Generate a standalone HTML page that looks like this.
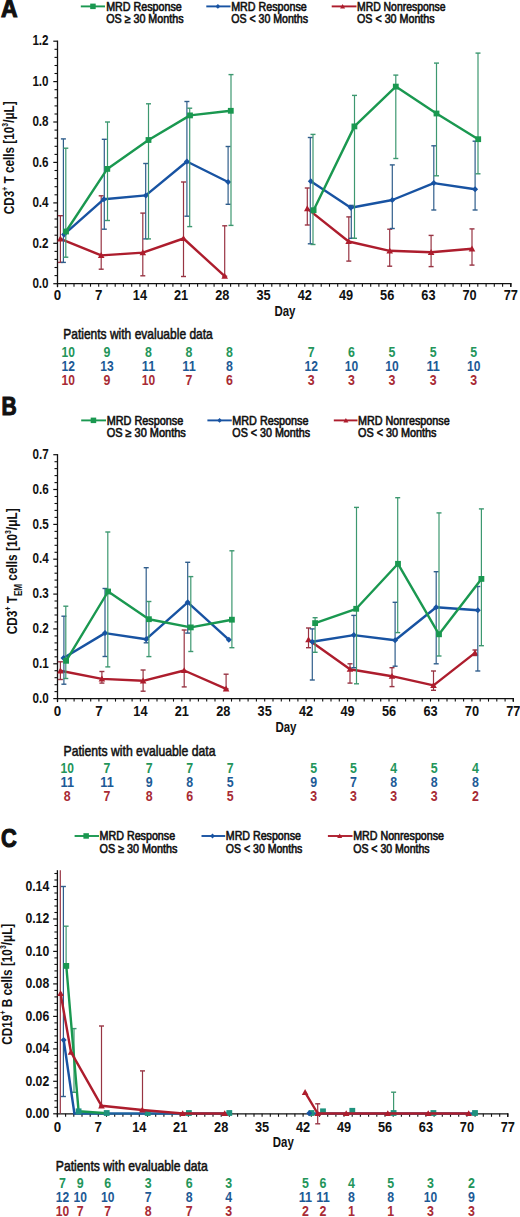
<!DOCTYPE html><html><head><meta charset="utf-8"><style>html,body{margin:0;padding:0;background:#fff;}svg{display:block;}text{font-family:"Liberation Sans", sans-serif;}</style></head><body>
<svg width="520" height="1217" viewBox="0 0 520 1217">
<rect width="520" height="1217" fill="#fff"/>
<text x="1.0" y="17.4" font-size="25" font-weight="bold" text-anchor="start" fill="#111" stroke="#111" stroke-width="1.1" textLength="16.6" lengthAdjust="spacingAndGlyphs">A</text>
<line x1="80.8" y1="6.4" x2="105.0" y2="6.4" stroke="#1a9850" stroke-width="1.9"/>
<rect x="90.2" y="3.6" width="5.5" height="5.5" fill="#1a9850"/>
<text x="106.2" y="10.6" font-size="12" font-weight="normal" text-anchor="start" fill="#111" stroke="#111" stroke-width="0.6" textLength="75.5" lengthAdjust="spacingAndGlyphs">MRD Response</text>
<text x="106.2" y="23.0" font-size="12" font-weight="normal" text-anchor="start" fill="#111" stroke="#111" stroke-width="0.6" textLength="77.3" lengthAdjust="spacingAndGlyphs">OS &#8805; 30 Months</text>
<line x1="206.3" y1="6.4" x2="230.5" y2="6.4" stroke="#1853a2" stroke-width="1.9"/>
<polygon points="217.9,4.0 220.3,6.4 217.9,8.8 215.5,6.4" fill="#1853a2"/>
<text x="231.2" y="10.6" font-size="12" font-weight="normal" text-anchor="start" fill="#111" stroke="#111" stroke-width="0.6" textLength="75.5" lengthAdjust="spacingAndGlyphs">MRD Response</text>
<text x="231.2" y="23.0" font-size="12" font-weight="normal" text-anchor="start" fill="#111" stroke="#111" stroke-width="0.6" textLength="76.8" lengthAdjust="spacingAndGlyphs">OS &lt; 30 Months</text>
<line x1="331.7" y1="6.4" x2="356.5" y2="6.4" stroke="#ad1d2d" stroke-width="1.9"/>
<polygon points="342.6,3.9 345.1,8.4 340.1,8.4" fill="#ad1d2d"/>
<text x="357.0" y="10.6" font-size="12" font-weight="normal" text-anchor="start" fill="#111" stroke="#111" stroke-width="0.6" textLength="88.5" lengthAdjust="spacingAndGlyphs">MRD Nonresponse</text>
<text x="357.0" y="23.0" font-size="12" font-weight="normal" text-anchor="start" fill="#111" stroke="#111" stroke-width="0.6" textLength="77.6" lengthAdjust="spacingAndGlyphs">OS &lt; 30 Months</text>
<text transform="translate(14.2,214.3) rotate(-90)" font-size="15.5" font-weight="bold" fill="#111" textLength="113" lengthAdjust="spacingAndGlyphs">CD3<tspan font-size="9" dy="-6">+</tspan><tspan dy="6"> T cells [10</tspan><tspan font-size="9" dy="-6">3</tspan><tspan dy="6">/&#956;L]</tspan></text>
<line x1="57.5" y1="40.6" x2="57.5" y2="287.2" stroke="#111" stroke-width="1.3"/>
<line x1="53.3" y1="283.7" x2="57.5" y2="283.7" stroke="#111" stroke-width="1.2"/>
<line x1="54.5" y1="275.6" x2="57.5" y2="275.6" stroke="#111" stroke-width="1.1"/>
<line x1="54.5" y1="267.5" x2="57.5" y2="267.5" stroke="#111" stroke-width="1.1"/>
<line x1="54.5" y1="259.4" x2="57.5" y2="259.4" stroke="#111" stroke-width="1.1"/>
<line x1="54.5" y1="251.4" x2="57.5" y2="251.4" stroke="#111" stroke-width="1.1"/>
<text x="48.6" y="287.9" font-size="15" font-weight="bold" text-anchor="end" fill="#111" textLength="16.2" lengthAdjust="spacingAndGlyphs">0.0</text>
<line x1="53.3" y1="243.3" x2="57.5" y2="243.3" stroke="#111" stroke-width="1.2"/>
<line x1="54.5" y1="235.2" x2="57.5" y2="235.2" stroke="#111" stroke-width="1.1"/>
<line x1="54.5" y1="227.1" x2="57.5" y2="227.1" stroke="#111" stroke-width="1.1"/>
<line x1="54.5" y1="219.0" x2="57.5" y2="219.0" stroke="#111" stroke-width="1.1"/>
<line x1="54.5" y1="210.9" x2="57.5" y2="210.9" stroke="#111" stroke-width="1.1"/>
<text x="48.6" y="247.5" font-size="15" font-weight="bold" text-anchor="end" fill="#111" textLength="16.2" lengthAdjust="spacingAndGlyphs">0.2</text>
<line x1="53.3" y1="202.9" x2="57.5" y2="202.9" stroke="#111" stroke-width="1.2"/>
<line x1="54.5" y1="194.8" x2="57.5" y2="194.8" stroke="#111" stroke-width="1.1"/>
<line x1="54.5" y1="186.7" x2="57.5" y2="186.7" stroke="#111" stroke-width="1.1"/>
<line x1="54.5" y1="178.6" x2="57.5" y2="178.6" stroke="#111" stroke-width="1.1"/>
<line x1="54.5" y1="170.5" x2="57.5" y2="170.5" stroke="#111" stroke-width="1.1"/>
<text x="48.6" y="207.1" font-size="15" font-weight="bold" text-anchor="end" fill="#111" textLength="16.2" lengthAdjust="spacingAndGlyphs">0.4</text>
<line x1="53.3" y1="162.4" x2="57.5" y2="162.4" stroke="#111" stroke-width="1.2"/>
<line x1="54.5" y1="154.4" x2="57.5" y2="154.4" stroke="#111" stroke-width="1.1"/>
<line x1="54.5" y1="146.3" x2="57.5" y2="146.3" stroke="#111" stroke-width="1.1"/>
<line x1="54.5" y1="138.2" x2="57.5" y2="138.2" stroke="#111" stroke-width="1.1"/>
<line x1="54.5" y1="130.1" x2="57.5" y2="130.1" stroke="#111" stroke-width="1.1"/>
<text x="48.6" y="166.6" font-size="15" font-weight="bold" text-anchor="end" fill="#111" textLength="16.2" lengthAdjust="spacingAndGlyphs">0.6</text>
<line x1="53.3" y1="122.0" x2="57.5" y2="122.0" stroke="#111" stroke-width="1.2"/>
<line x1="54.5" y1="114.0" x2="57.5" y2="114.0" stroke="#111" stroke-width="1.1"/>
<line x1="54.5" y1="105.9" x2="57.5" y2="105.9" stroke="#111" stroke-width="1.1"/>
<line x1="54.5" y1="97.8" x2="57.5" y2="97.8" stroke="#111" stroke-width="1.1"/>
<line x1="54.5" y1="89.7" x2="57.5" y2="89.7" stroke="#111" stroke-width="1.1"/>
<text x="48.6" y="126.2" font-size="15" font-weight="bold" text-anchor="end" fill="#111" textLength="16.2" lengthAdjust="spacingAndGlyphs">0.8</text>
<line x1="53.3" y1="81.6" x2="57.5" y2="81.6" stroke="#111" stroke-width="1.2"/>
<line x1="54.5" y1="73.5" x2="57.5" y2="73.5" stroke="#111" stroke-width="1.1"/>
<line x1="54.5" y1="65.5" x2="57.5" y2="65.5" stroke="#111" stroke-width="1.1"/>
<line x1="54.5" y1="57.4" x2="57.5" y2="57.4" stroke="#111" stroke-width="1.1"/>
<line x1="54.5" y1="49.3" x2="57.5" y2="49.3" stroke="#111" stroke-width="1.1"/>
<text x="48.6" y="85.8" font-size="15" font-weight="bold" text-anchor="end" fill="#111" textLength="16.2" lengthAdjust="spacingAndGlyphs">1.0</text>
<line x1="53.3" y1="41.2" x2="57.5" y2="41.2" stroke="#111" stroke-width="1.2"/>
<text x="48.6" y="45.4" font-size="15" font-weight="bold" text-anchor="end" fill="#111" textLength="16.2" lengthAdjust="spacingAndGlyphs">1.2</text>
<line x1="56.9" y1="283.7" x2="511.4" y2="283.7" stroke="#111" stroke-width="1.3"/>
<line x1="57.5" y1="283.7" x2="57.5" y2="286.7" stroke="#111" stroke-width="1.1"/>
<line x1="65.7" y1="283.7" x2="65.7" y2="286.7" stroke="#111" stroke-width="1.1"/>
<line x1="74.0" y1="283.7" x2="74.0" y2="286.7" stroke="#111" stroke-width="1.1"/>
<line x1="82.2" y1="283.7" x2="82.2" y2="286.7" stroke="#111" stroke-width="1.1"/>
<line x1="90.5" y1="283.7" x2="90.5" y2="286.7" stroke="#111" stroke-width="1.1"/>
<line x1="98.7" y1="283.7" x2="98.7" y2="286.7" stroke="#111" stroke-width="1.1"/>
<line x1="107.0" y1="283.7" x2="107.0" y2="286.7" stroke="#111" stroke-width="1.1"/>
<line x1="115.2" y1="283.7" x2="115.2" y2="286.7" stroke="#111" stroke-width="1.1"/>
<line x1="123.4" y1="283.7" x2="123.4" y2="286.7" stroke="#111" stroke-width="1.1"/>
<line x1="131.7" y1="283.7" x2="131.7" y2="286.7" stroke="#111" stroke-width="1.1"/>
<line x1="139.9" y1="283.7" x2="139.9" y2="286.7" stroke="#111" stroke-width="1.1"/>
<line x1="148.2" y1="283.7" x2="148.2" y2="286.7" stroke="#111" stroke-width="1.1"/>
<line x1="156.4" y1="283.7" x2="156.4" y2="286.7" stroke="#111" stroke-width="1.1"/>
<line x1="164.6" y1="283.7" x2="164.6" y2="286.7" stroke="#111" stroke-width="1.1"/>
<line x1="172.9" y1="283.7" x2="172.9" y2="286.7" stroke="#111" stroke-width="1.1"/>
<line x1="181.1" y1="283.7" x2="181.1" y2="286.7" stroke="#111" stroke-width="1.1"/>
<line x1="189.4" y1="283.7" x2="189.4" y2="286.7" stroke="#111" stroke-width="1.1"/>
<line x1="197.6" y1="283.7" x2="197.6" y2="286.7" stroke="#111" stroke-width="1.1"/>
<line x1="205.9" y1="283.7" x2="205.9" y2="286.7" stroke="#111" stroke-width="1.1"/>
<line x1="214.1" y1="283.7" x2="214.1" y2="286.7" stroke="#111" stroke-width="1.1"/>
<line x1="222.3" y1="283.7" x2="222.3" y2="286.7" stroke="#111" stroke-width="1.1"/>
<line x1="230.6" y1="283.7" x2="230.6" y2="286.7" stroke="#111" stroke-width="1.1"/>
<line x1="238.8" y1="283.7" x2="238.8" y2="286.7" stroke="#111" stroke-width="1.1"/>
<line x1="247.1" y1="283.7" x2="247.1" y2="286.7" stroke="#111" stroke-width="1.1"/>
<line x1="255.3" y1="283.7" x2="255.3" y2="286.7" stroke="#111" stroke-width="1.1"/>
<line x1="263.5" y1="283.7" x2="263.5" y2="286.7" stroke="#111" stroke-width="1.1"/>
<line x1="271.8" y1="283.7" x2="271.8" y2="286.7" stroke="#111" stroke-width="1.1"/>
<line x1="280.0" y1="283.7" x2="280.0" y2="286.7" stroke="#111" stroke-width="1.1"/>
<line x1="288.3" y1="283.7" x2="288.3" y2="286.7" stroke="#111" stroke-width="1.1"/>
<line x1="296.5" y1="283.7" x2="296.5" y2="286.7" stroke="#111" stroke-width="1.1"/>
<line x1="304.8" y1="283.7" x2="304.8" y2="286.7" stroke="#111" stroke-width="1.1"/>
<line x1="313.0" y1="283.7" x2="313.0" y2="286.7" stroke="#111" stroke-width="1.1"/>
<line x1="321.2" y1="283.7" x2="321.2" y2="286.7" stroke="#111" stroke-width="1.1"/>
<line x1="329.5" y1="283.7" x2="329.5" y2="286.7" stroke="#111" stroke-width="1.1"/>
<line x1="337.7" y1="283.7" x2="337.7" y2="286.7" stroke="#111" stroke-width="1.1"/>
<line x1="346.0" y1="283.7" x2="346.0" y2="286.7" stroke="#111" stroke-width="1.1"/>
<line x1="354.2" y1="283.7" x2="354.2" y2="286.7" stroke="#111" stroke-width="1.1"/>
<line x1="362.4" y1="283.7" x2="362.4" y2="286.7" stroke="#111" stroke-width="1.1"/>
<line x1="370.7" y1="283.7" x2="370.7" y2="286.7" stroke="#111" stroke-width="1.1"/>
<line x1="378.9" y1="283.7" x2="378.9" y2="286.7" stroke="#111" stroke-width="1.1"/>
<line x1="387.2" y1="283.7" x2="387.2" y2="286.7" stroke="#111" stroke-width="1.1"/>
<line x1="395.4" y1="283.7" x2="395.4" y2="286.7" stroke="#111" stroke-width="1.1"/>
<line x1="403.7" y1="283.7" x2="403.7" y2="286.7" stroke="#111" stroke-width="1.1"/>
<line x1="411.9" y1="283.7" x2="411.9" y2="286.7" stroke="#111" stroke-width="1.1"/>
<line x1="420.1" y1="283.7" x2="420.1" y2="286.7" stroke="#111" stroke-width="1.1"/>
<line x1="428.4" y1="283.7" x2="428.4" y2="286.7" stroke="#111" stroke-width="1.1"/>
<line x1="436.6" y1="283.7" x2="436.6" y2="286.7" stroke="#111" stroke-width="1.1"/>
<line x1="444.9" y1="283.7" x2="444.9" y2="286.7" stroke="#111" stroke-width="1.1"/>
<line x1="453.1" y1="283.7" x2="453.1" y2="286.7" stroke="#111" stroke-width="1.1"/>
<line x1="461.3" y1="283.7" x2="461.3" y2="286.7" stroke="#111" stroke-width="1.1"/>
<line x1="469.6" y1="283.7" x2="469.6" y2="286.7" stroke="#111" stroke-width="1.1"/>
<line x1="477.8" y1="283.7" x2="477.8" y2="286.7" stroke="#111" stroke-width="1.1"/>
<line x1="486.1" y1="283.7" x2="486.1" y2="286.7" stroke="#111" stroke-width="1.1"/>
<line x1="494.3" y1="283.7" x2="494.3" y2="286.7" stroke="#111" stroke-width="1.1"/>
<line x1="502.6" y1="283.7" x2="502.6" y2="286.7" stroke="#111" stroke-width="1.1"/>
<line x1="510.8" y1="283.7" x2="510.8" y2="286.7" stroke="#111" stroke-width="1.1"/>
<line x1="510.8" y1="283.1" x2="510.8" y2="286.9" stroke="#111" stroke-width="1.3"/>
<text x="57.5" y="300.3" font-size="14" font-weight="bold" text-anchor="middle" fill="#111" textLength="7.4" lengthAdjust="spacingAndGlyphs">0</text>
<text x="98.7" y="300.3" font-size="14" font-weight="bold" text-anchor="middle" fill="#111" textLength="7.4" lengthAdjust="spacingAndGlyphs">7</text>
<text x="139.9" y="300.3" font-size="14" font-weight="bold" text-anchor="middle" fill="#111" textLength="14.2" lengthAdjust="spacingAndGlyphs">14</text>
<text x="181.1" y="300.3" font-size="14" font-weight="bold" text-anchor="middle" fill="#111" textLength="14.2" lengthAdjust="spacingAndGlyphs">21</text>
<text x="222.3" y="300.3" font-size="14" font-weight="bold" text-anchor="middle" fill="#111" textLength="14.2" lengthAdjust="spacingAndGlyphs">28</text>
<text x="263.5" y="300.3" font-size="14" font-weight="bold" text-anchor="middle" fill="#111" textLength="14.2" lengthAdjust="spacingAndGlyphs">35</text>
<text x="304.8" y="300.3" font-size="14" font-weight="bold" text-anchor="middle" fill="#111" textLength="14.2" lengthAdjust="spacingAndGlyphs">42</text>
<text x="346.0" y="300.3" font-size="14" font-weight="bold" text-anchor="middle" fill="#111" textLength="14.2" lengthAdjust="spacingAndGlyphs">49</text>
<text x="387.2" y="300.3" font-size="14" font-weight="bold" text-anchor="middle" fill="#111" textLength="14.2" lengthAdjust="spacingAndGlyphs">56</text>
<text x="428.4" y="300.3" font-size="14" font-weight="bold" text-anchor="middle" fill="#111" textLength="14.2" lengthAdjust="spacingAndGlyphs">63</text>
<text x="469.6" y="300.3" font-size="14" font-weight="bold" text-anchor="middle" fill="#111" textLength="14.2" lengthAdjust="spacingAndGlyphs">70</text>
<text x="510.8" y="300.3" font-size="14" font-weight="bold" text-anchor="middle" fill="#111" textLength="14.2" lengthAdjust="spacingAndGlyphs">77</text>
<text x="274.4" y="316.3" font-size="14" font-weight="bold" text-anchor="start" fill="#111" textLength="21.0" lengthAdjust="spacingAndGlyphs">Day</text>
<text x="63.2" y="339.2" font-size="14.5" font-weight="normal" text-anchor="start" fill="#111" stroke="#111" stroke-width="0.55" textLength="149.6" lengthAdjust="spacingAndGlyphs">Patients with evaluable data</text>
<text x="68.3" y="357.0" font-size="14.5" font-weight="bold" text-anchor="middle" fill="#23955a" textLength="13.4" lengthAdjust="spacingAndGlyphs">10</text>
<text x="107.0" y="357.0" font-size="14.5" font-weight="bold" text-anchor="middle" fill="#23955a" textLength="6.9" lengthAdjust="spacingAndGlyphs">9</text>
<text x="148.5" y="357.0" font-size="14.5" font-weight="bold" text-anchor="middle" fill="#23955a" textLength="6.9" lengthAdjust="spacingAndGlyphs">8</text>
<text x="189.0" y="357.0" font-size="14.5" font-weight="bold" text-anchor="middle" fill="#23955a" textLength="6.9" lengthAdjust="spacingAndGlyphs">8</text>
<text x="229.5" y="357.0" font-size="14.5" font-weight="bold" text-anchor="middle" fill="#23955a" textLength="6.9" lengthAdjust="spacingAndGlyphs">8</text>
<text x="311.2" y="357.0" font-size="14.5" font-weight="bold" text-anchor="middle" fill="#23955a" textLength="6.9" lengthAdjust="spacingAndGlyphs">7</text>
<text x="351.5" y="357.0" font-size="14.5" font-weight="bold" text-anchor="middle" fill="#23955a" textLength="6.9" lengthAdjust="spacingAndGlyphs">6</text>
<text x="391.9" y="357.0" font-size="14.5" font-weight="bold" text-anchor="middle" fill="#23955a" textLength="6.9" lengthAdjust="spacingAndGlyphs">5</text>
<text x="433.1" y="357.0" font-size="14.5" font-weight="bold" text-anchor="middle" fill="#23955a" textLength="6.9" lengthAdjust="spacingAndGlyphs">5</text>
<text x="473.8" y="357.0" font-size="14.5" font-weight="bold" text-anchor="middle" fill="#23955a" textLength="6.9" lengthAdjust="spacingAndGlyphs">5</text>
<text x="68.3" y="370.9" font-size="14.5" font-weight="bold" text-anchor="middle" fill="#1d5a96" textLength="13.4" lengthAdjust="spacingAndGlyphs">12</text>
<text x="107.0" y="370.9" font-size="14.5" font-weight="bold" text-anchor="middle" fill="#1d5a96" textLength="13.4" lengthAdjust="spacingAndGlyphs">13</text>
<text x="148.5" y="370.9" font-size="14.5" font-weight="bold" text-anchor="middle" fill="#1d5a96" textLength="13.4" lengthAdjust="spacingAndGlyphs">11</text>
<text x="189.0" y="370.9" font-size="14.5" font-weight="bold" text-anchor="middle" fill="#1d5a96" textLength="13.4" lengthAdjust="spacingAndGlyphs">11</text>
<text x="229.5" y="370.9" font-size="14.5" font-weight="bold" text-anchor="middle" fill="#1d5a96" textLength="6.9" lengthAdjust="spacingAndGlyphs">8</text>
<text x="311.2" y="370.9" font-size="14.5" font-weight="bold" text-anchor="middle" fill="#1d5a96" textLength="13.4" lengthAdjust="spacingAndGlyphs">12</text>
<text x="351.5" y="370.9" font-size="14.5" font-weight="bold" text-anchor="middle" fill="#1d5a96" textLength="13.4" lengthAdjust="spacingAndGlyphs">10</text>
<text x="391.9" y="370.9" font-size="14.5" font-weight="bold" text-anchor="middle" fill="#1d5a96" textLength="13.4" lengthAdjust="spacingAndGlyphs">10</text>
<text x="433.1" y="370.9" font-size="14.5" font-weight="bold" text-anchor="middle" fill="#1d5a96" textLength="13.4" lengthAdjust="spacingAndGlyphs">11</text>
<text x="473.8" y="370.9" font-size="14.5" font-weight="bold" text-anchor="middle" fill="#1d5a96" textLength="13.4" lengthAdjust="spacingAndGlyphs">10</text>
<text x="68.3" y="385.3" font-size="14.5" font-weight="bold" text-anchor="middle" fill="#a82a34" textLength="13.4" lengthAdjust="spacingAndGlyphs">10</text>
<text x="107.0" y="385.3" font-size="14.5" font-weight="bold" text-anchor="middle" fill="#a82a34" textLength="6.9" lengthAdjust="spacingAndGlyphs">9</text>
<text x="148.5" y="385.3" font-size="14.5" font-weight="bold" text-anchor="middle" fill="#a82a34" textLength="13.4" lengthAdjust="spacingAndGlyphs">10</text>
<text x="189.0" y="385.3" font-size="14.5" font-weight="bold" text-anchor="middle" fill="#a82a34" textLength="6.9" lengthAdjust="spacingAndGlyphs">7</text>
<text x="229.5" y="385.3" font-size="14.5" font-weight="bold" text-anchor="middle" fill="#a82a34" textLength="6.9" lengthAdjust="spacingAndGlyphs">6</text>
<text x="311.2" y="385.3" font-size="14.5" font-weight="bold" text-anchor="middle" fill="#a82a34" textLength="6.9" lengthAdjust="spacingAndGlyphs">3</text>
<text x="351.5" y="385.3" font-size="14.5" font-weight="bold" text-anchor="middle" fill="#a82a34" textLength="6.9" lengthAdjust="spacingAndGlyphs">3</text>
<text x="391.9" y="385.3" font-size="14.5" font-weight="bold" text-anchor="middle" fill="#a82a34" textLength="6.9" lengthAdjust="spacingAndGlyphs">3</text>
<text x="433.1" y="385.3" font-size="14.5" font-weight="bold" text-anchor="middle" fill="#a82a34" textLength="6.9" lengthAdjust="spacingAndGlyphs">3</text>
<text x="473.8" y="385.3" font-size="14.5" font-weight="bold" text-anchor="middle" fill="#a82a34" textLength="6.9" lengthAdjust="spacingAndGlyphs">3</text>
<line x1="60.4" y1="215.7" x2="60.4" y2="262.4" stroke="#983443" stroke-width="1.2"/>
<line x1="57.9" y1="215.7" x2="62.9" y2="215.7" stroke="#983443" stroke-width="1.4"/>
<line x1="57.9" y1="262.4" x2="62.9" y2="262.4" stroke="#983443" stroke-width="1.4"/>
<line x1="101.2" y1="195.8" x2="101.2" y2="269.2" stroke="#983443" stroke-width="1.2"/>
<line x1="98.7" y1="195.8" x2="103.7" y2="195.8" stroke="#983443" stroke-width="1.4"/>
<line x1="98.7" y1="269.2" x2="103.7" y2="269.2" stroke="#983443" stroke-width="1.4"/>
<line x1="142.8" y1="213.1" x2="142.8" y2="275.8" stroke="#983443" stroke-width="1.2"/>
<line x1="140.3" y1="213.1" x2="145.3" y2="213.1" stroke="#983443" stroke-width="1.4"/>
<line x1="140.3" y1="275.8" x2="145.3" y2="275.8" stroke="#983443" stroke-width="1.4"/>
<line x1="183.5" y1="182.0" x2="183.5" y2="276.5" stroke="#983443" stroke-width="1.2"/>
<line x1="181.0" y1="182.0" x2="186.0" y2="182.0" stroke="#983443" stroke-width="1.4"/>
<line x1="181.0" y1="276.5" x2="186.0" y2="276.5" stroke="#983443" stroke-width="1.4"/>
<line x1="224.7" y1="225.8" x2="224.7" y2="276.2" stroke="#983443" stroke-width="1.2"/>
<line x1="222.2" y1="225.8" x2="227.2" y2="225.8" stroke="#983443" stroke-width="1.4"/>
<line x1="222.2" y1="276.2" x2="227.2" y2="276.2" stroke="#983443" stroke-width="1.4"/>
<line x1="307.3" y1="188.0" x2="307.3" y2="225.0" stroke="#983443" stroke-width="1.2"/>
<line x1="304.8" y1="188.0" x2="309.8" y2="188.0" stroke="#983443" stroke-width="1.4"/>
<line x1="304.8" y1="225.0" x2="309.8" y2="225.0" stroke="#983443" stroke-width="1.4"/>
<line x1="348.8" y1="216.9" x2="348.8" y2="261.1" stroke="#983443" stroke-width="1.2"/>
<line x1="346.3" y1="216.9" x2="351.3" y2="216.9" stroke="#983443" stroke-width="1.4"/>
<line x1="346.3" y1="261.1" x2="351.3" y2="261.1" stroke="#983443" stroke-width="1.4"/>
<line x1="389.7" y1="229.2" x2="389.7" y2="266.2" stroke="#983443" stroke-width="1.2"/>
<line x1="387.2" y1="229.2" x2="392.2" y2="229.2" stroke="#983443" stroke-width="1.4"/>
<line x1="387.2" y1="266.2" x2="392.2" y2="266.2" stroke="#983443" stroke-width="1.4"/>
<line x1="431.1" y1="235.4" x2="431.1" y2="266.6" stroke="#983443" stroke-width="1.2"/>
<line x1="428.6" y1="235.4" x2="433.6" y2="235.4" stroke="#983443" stroke-width="1.4"/>
<line x1="428.6" y1="266.6" x2="433.6" y2="266.6" stroke="#983443" stroke-width="1.4"/>
<line x1="472.0" y1="228.9" x2="472.0" y2="265.1" stroke="#983443" stroke-width="1.2"/>
<line x1="469.5" y1="228.9" x2="474.5" y2="228.9" stroke="#983443" stroke-width="1.4"/>
<line x1="469.5" y1="265.1" x2="474.5" y2="265.1" stroke="#983443" stroke-width="1.4"/>
<polyline points="60.4,238.8 101.2,255.4 142.8,252.6 183.5,238.5 224.7,276.2" fill="none" stroke="#ad1d2d" stroke-width="2.4" stroke-linejoin="round" stroke-linecap="round"/>
<polyline points="307.3,208.6 348.6,241.5 389.7,250.8 431.1,252.3 472.0,248.8" fill="none" stroke="#ad1d2d" stroke-width="2.4" stroke-linejoin="round" stroke-linecap="round"/>
<polygon points="60.4,235.5 63.7,241.4 57.1,241.4" fill="#ad1d2d"/>
<polygon points="101.2,252.1 104.5,258.0 97.9,258.0" fill="#ad1d2d"/>
<polygon points="142.8,249.3 146.1,255.2 139.5,255.2" fill="#ad1d2d"/>
<polygon points="183.5,235.2 186.8,241.1 180.2,241.1" fill="#ad1d2d"/>
<polygon points="224.7,272.9 228.0,278.8 221.4,278.8" fill="#ad1d2d"/>
<polygon points="307.3,205.3 310.6,211.2 304.0,211.2" fill="#ad1d2d"/>
<polygon points="348.6,238.2 351.9,244.1 345.3,244.1" fill="#ad1d2d"/>
<polygon points="389.7,247.5 393.0,253.4 386.4,253.4" fill="#ad1d2d"/>
<polygon points="431.1,249.0 434.4,254.9 427.8,254.9" fill="#ad1d2d"/>
<polygon points="472.0,245.5 475.3,251.4 468.7,251.4" fill="#ad1d2d"/>
<line x1="63.4" y1="138.9" x2="63.4" y2="262.4" stroke="#305e8c" stroke-width="1.2"/>
<line x1="60.9" y1="138.9" x2="65.9" y2="138.9" stroke="#305e8c" stroke-width="1.4"/>
<line x1="60.9" y1="262.4" x2="65.9" y2="262.4" stroke="#305e8c" stroke-width="1.4"/>
<line x1="104.3" y1="139.3" x2="104.3" y2="229.2" stroke="#305e8c" stroke-width="1.2"/>
<line x1="101.8" y1="139.3" x2="106.8" y2="139.3" stroke="#305e8c" stroke-width="1.4"/>
<line x1="101.8" y1="229.2" x2="106.8" y2="229.2" stroke="#305e8c" stroke-width="1.4"/>
<line x1="145.7" y1="163.5" x2="145.7" y2="238.9" stroke="#305e8c" stroke-width="1.2"/>
<line x1="143.2" y1="163.5" x2="148.2" y2="163.5" stroke="#305e8c" stroke-width="1.4"/>
<line x1="143.2" y1="238.9" x2="148.2" y2="238.9" stroke="#305e8c" stroke-width="1.4"/>
<line x1="186.9" y1="101.5" x2="186.9" y2="216.2" stroke="#305e8c" stroke-width="1.2"/>
<line x1="184.4" y1="101.5" x2="189.4" y2="101.5" stroke="#305e8c" stroke-width="1.4"/>
<line x1="184.4" y1="216.2" x2="189.4" y2="216.2" stroke="#305e8c" stroke-width="1.4"/>
<line x1="228.1" y1="146.5" x2="228.1" y2="204.3" stroke="#305e8c" stroke-width="1.2"/>
<line x1="225.6" y1="146.5" x2="230.6" y2="146.5" stroke="#305e8c" stroke-width="1.4"/>
<line x1="225.6" y1="204.3" x2="230.6" y2="204.3" stroke="#305e8c" stroke-width="1.4"/>
<line x1="310.3" y1="137.5" x2="310.3" y2="243.8" stroke="#305e8c" stroke-width="1.2"/>
<line x1="307.8" y1="137.5" x2="312.8" y2="137.5" stroke="#305e8c" stroke-width="1.4"/>
<line x1="307.8" y1="243.8" x2="312.8" y2="243.8" stroke="#305e8c" stroke-width="1.4"/>
<line x1="351.3" y1="205.4" x2="351.3" y2="238.3" stroke="#305e8c" stroke-width="1.2"/>
<line x1="348.8" y1="205.4" x2="353.8" y2="205.4" stroke="#305e8c" stroke-width="1.4"/>
<line x1="348.8" y1="238.3" x2="353.8" y2="238.3" stroke="#305e8c" stroke-width="1.4"/>
<line x1="392.3" y1="164.9" x2="392.3" y2="228.5" stroke="#305e8c" stroke-width="1.2"/>
<line x1="389.8" y1="164.9" x2="394.8" y2="164.9" stroke="#305e8c" stroke-width="1.4"/>
<line x1="389.8" y1="228.5" x2="394.8" y2="228.5" stroke="#305e8c" stroke-width="1.4"/>
<line x1="433.8" y1="145.8" x2="433.8" y2="210.0" stroke="#305e8c" stroke-width="1.2"/>
<line x1="431.3" y1="145.8" x2="436.3" y2="145.8" stroke="#305e8c" stroke-width="1.4"/>
<line x1="431.3" y1="210.0" x2="436.3" y2="210.0" stroke="#305e8c" stroke-width="1.4"/>
<line x1="475.1" y1="141.2" x2="475.1" y2="210.0" stroke="#305e8c" stroke-width="1.2"/>
<line x1="472.6" y1="141.2" x2="477.6" y2="141.2" stroke="#305e8c" stroke-width="1.4"/>
<line x1="472.6" y1="210.0" x2="477.6" y2="210.0" stroke="#305e8c" stroke-width="1.4"/>
<polyline points="64.1,234.4 103.9,199.2 145.8,195.4 186.9,161.5 228.1,182.0" fill="none" stroke="#1853a2" stroke-width="2.4" stroke-linejoin="round" stroke-linecap="round"/>
<polyline points="310.8,181.3 350.8,207.7 392.3,200.0 433.8,183.1 475.1,189.2" fill="none" stroke="#1853a2" stroke-width="2.4" stroke-linejoin="round" stroke-linecap="round"/>
<polygon points="64.1,231.4 67.1,234.4 64.1,237.4 61.1,234.4" fill="#1853a2"/>
<polygon points="103.9,196.2 106.9,199.2 103.9,202.2 100.9,199.2" fill="#1853a2"/>
<polygon points="145.8,192.4 148.8,195.4 145.8,198.4 142.8,195.4" fill="#1853a2"/>
<polygon points="186.9,158.5 189.9,161.5 186.9,164.5 183.9,161.5" fill="#1853a2"/>
<polygon points="228.1,179.0 231.1,182.0 228.1,185.0 225.1,182.0" fill="#1853a2"/>
<polygon points="310.8,178.3 313.8,181.3 310.8,184.3 307.8,181.3" fill="#1853a2"/>
<polygon points="350.8,204.7 353.8,207.7 350.8,210.7 347.8,207.7" fill="#1853a2"/>
<polygon points="392.3,197.0 395.3,200.0 392.3,203.0 389.3,200.0" fill="#1853a2"/>
<polygon points="433.8,180.1 436.8,183.1 433.8,186.1 430.8,183.1" fill="#1853a2"/>
<polygon points="475.1,186.2 478.1,189.2 475.1,192.2 472.1,189.2" fill="#1853a2"/>
<line x1="65.8" y1="148.2" x2="65.8" y2="257.2" stroke="#3d9870" stroke-width="1.2"/>
<line x1="63.3" y1="148.2" x2="68.3" y2="148.2" stroke="#3d9870" stroke-width="1.4"/>
<line x1="63.3" y1="257.2" x2="68.3" y2="257.2" stroke="#3d9870" stroke-width="1.4"/>
<line x1="107.5" y1="122.0" x2="107.5" y2="220.5" stroke="#3d9870" stroke-width="1.2"/>
<line x1="105.0" y1="122.0" x2="110.0" y2="122.0" stroke="#3d9870" stroke-width="1.4"/>
<line x1="105.0" y1="220.5" x2="110.0" y2="220.5" stroke="#3d9870" stroke-width="1.4"/>
<line x1="148.5" y1="103.8" x2="148.5" y2="238.9" stroke="#3d9870" stroke-width="1.2"/>
<line x1="146.0" y1="103.8" x2="151.0" y2="103.8" stroke="#3d9870" stroke-width="1.4"/>
<line x1="146.0" y1="238.9" x2="151.0" y2="238.9" stroke="#3d9870" stroke-width="1.4"/>
<line x1="189.7" y1="108.2" x2="189.7" y2="226.6" stroke="#3d9870" stroke-width="1.2"/>
<line x1="187.2" y1="108.2" x2="192.2" y2="108.2" stroke="#3d9870" stroke-width="1.4"/>
<line x1="187.2" y1="226.6" x2="192.2" y2="226.6" stroke="#3d9870" stroke-width="1.4"/>
<line x1="231.0" y1="74.6" x2="231.0" y2="225.4" stroke="#3d9870" stroke-width="1.2"/>
<line x1="228.5" y1="74.6" x2="233.5" y2="74.6" stroke="#3d9870" stroke-width="1.4"/>
<line x1="228.5" y1="225.4" x2="233.5" y2="225.4" stroke="#3d9870" stroke-width="1.4"/>
<line x1="313.0" y1="134.4" x2="313.0" y2="244.5" stroke="#3d9870" stroke-width="1.2"/>
<line x1="310.5" y1="134.4" x2="315.5" y2="134.4" stroke="#3d9870" stroke-width="1.4"/>
<line x1="310.5" y1="244.5" x2="315.5" y2="244.5" stroke="#3d9870" stroke-width="1.4"/>
<line x1="354.5" y1="95.4" x2="354.5" y2="238.3" stroke="#3d9870" stroke-width="1.2"/>
<line x1="352.0" y1="95.4" x2="357.0" y2="95.4" stroke="#3d9870" stroke-width="1.4"/>
<line x1="352.0" y1="238.3" x2="357.0" y2="238.3" stroke="#3d9870" stroke-width="1.4"/>
<line x1="395.8" y1="75.1" x2="395.8" y2="158.5" stroke="#3d9870" stroke-width="1.2"/>
<line x1="393.3" y1="75.1" x2="398.3" y2="75.1" stroke="#3d9870" stroke-width="1.4"/>
<line x1="393.3" y1="158.5" x2="398.3" y2="158.5" stroke="#3d9870" stroke-width="1.4"/>
<line x1="436.5" y1="63.1" x2="436.5" y2="175.8" stroke="#3d9870" stroke-width="1.2"/>
<line x1="434.0" y1="63.1" x2="439.0" y2="63.1" stroke="#3d9870" stroke-width="1.4"/>
<line x1="434.0" y1="175.8" x2="439.0" y2="175.8" stroke="#3d9870" stroke-width="1.4"/>
<line x1="478.0" y1="53.1" x2="478.0" y2="173.8" stroke="#3d9870" stroke-width="1.2"/>
<line x1="475.5" y1="53.1" x2="480.5" y2="53.1" stroke="#3d9870" stroke-width="1.4"/>
<line x1="475.5" y1="173.8" x2="480.5" y2="173.8" stroke="#3d9870" stroke-width="1.4"/>
<polyline points="66.0,231.5 107.3,168.9 148.5,140.0 190.0,115.4 230.8,110.8" fill="none" stroke="#1a9850" stroke-width="2.4" stroke-linejoin="round" stroke-linecap="round"/>
<polyline points="313.6,210.2 354.4,126.4 395.8,86.6 436.5,113.5 478.2,139.2" fill="none" stroke="#1a9850" stroke-width="2.4" stroke-linejoin="round" stroke-linecap="round"/>
<rect x="63.1" y="228.6" width="5.8" height="5.8" fill="#1a9850"/>
<rect x="104.4" y="166.0" width="5.8" height="5.8" fill="#1a9850"/>
<rect x="145.6" y="137.1" width="5.8" height="5.8" fill="#1a9850"/>
<rect x="187.1" y="112.5" width="5.8" height="5.8" fill="#1a9850"/>
<rect x="227.9" y="107.9" width="5.8" height="5.8" fill="#1a9850"/>
<rect x="310.7" y="207.3" width="5.8" height="5.8" fill="#1a9850"/>
<rect x="351.5" y="123.5" width="5.8" height="5.8" fill="#1a9850"/>
<rect x="392.9" y="83.7" width="5.8" height="5.8" fill="#1a9850"/>
<rect x="433.6" y="110.6" width="5.8" height="5.8" fill="#1a9850"/>
<rect x="475.3" y="136.3" width="5.8" height="5.8" fill="#1a9850"/>
<text x="1.6" y="414.9" font-size="25" font-weight="bold" text-anchor="start" fill="#111" stroke="#111" stroke-width="1.1" textLength="15.2" lengthAdjust="spacingAndGlyphs">B</text>
<line x1="81.2" y1="420.4" x2="106.0" y2="420.4" stroke="#1a9850" stroke-width="1.9"/>
<rect x="90.7" y="417.6" width="5.5" height="5.5" fill="#1a9850"/>
<text x="106.7" y="424.6" font-size="12" font-weight="normal" text-anchor="start" fill="#111" stroke="#111" stroke-width="0.6" textLength="76.6" lengthAdjust="spacingAndGlyphs">MRD Response</text>
<text x="106.7" y="437.0" font-size="12" font-weight="normal" text-anchor="start" fill="#111" stroke="#111" stroke-width="0.6" textLength="79.1" lengthAdjust="spacingAndGlyphs">OS &#8805; 30 Months</text>
<line x1="207.4" y1="420.4" x2="231.8" y2="420.4" stroke="#1853a2" stroke-width="1.9"/>
<polygon points="219.6,418.0 222.0,420.4 219.6,422.8 217.2,420.4" fill="#1853a2"/>
<text x="232.3" y="424.6" font-size="12" font-weight="normal" text-anchor="start" fill="#111" stroke="#111" stroke-width="0.6" textLength="76.2" lengthAdjust="spacingAndGlyphs">MRD Response</text>
<text x="232.3" y="437.0" font-size="12" font-weight="normal" text-anchor="start" fill="#111" stroke="#111" stroke-width="0.6" textLength="77.8" lengthAdjust="spacingAndGlyphs">OS &lt; 30 Months</text>
<line x1="333.8" y1="420.4" x2="357.5" y2="420.4" stroke="#ad1d2d" stroke-width="1.9"/>
<polygon points="345.9,417.9 348.4,422.4 343.4,422.4" fill="#ad1d2d"/>
<text x="358.0" y="424.6" font-size="12" font-weight="normal" text-anchor="start" fill="#111" stroke="#111" stroke-width="0.6" textLength="91.7" lengthAdjust="spacingAndGlyphs">MRD Nonresponse</text>
<text x="358.0" y="437.0" font-size="12" font-weight="normal" text-anchor="start" fill="#111" stroke="#111" stroke-width="0.6" textLength="78.5" lengthAdjust="spacingAndGlyphs">OS &lt; 30 Months</text>
<text transform="translate(17.3,634.3) rotate(-90)" font-size="15.5" font-weight="bold" fill="#111" textLength="126" lengthAdjust="spacingAndGlyphs">CD3<tspan font-size="9" dy="-6">+</tspan><tspan dy="6"> T</tspan><tspan font-size="10.5" dy="5">EM</tspan><tspan dy="-5"> cells [10</tspan><tspan font-size="9" dy="-6">3</tspan><tspan dy="6">/&#956;L]</tspan></text>
<line x1="57.5" y1="454.1" x2="57.5" y2="702.1" stroke="#111" stroke-width="1.3"/>
<line x1="53.3" y1="698.6" x2="57.5" y2="698.6" stroke="#111" stroke-width="1.2"/>
<line x1="54.5" y1="691.6" x2="57.5" y2="691.6" stroke="#111" stroke-width="1.1"/>
<line x1="54.5" y1="684.7" x2="57.5" y2="684.7" stroke="#111" stroke-width="1.1"/>
<line x1="54.5" y1="677.7" x2="57.5" y2="677.7" stroke="#111" stroke-width="1.1"/>
<line x1="54.5" y1="670.7" x2="57.5" y2="670.7" stroke="#111" stroke-width="1.1"/>
<text x="48.8" y="702.8" font-size="15" font-weight="bold" text-anchor="end" fill="#111" textLength="16.2" lengthAdjust="spacingAndGlyphs">0.0</text>
<line x1="53.3" y1="663.8" x2="57.5" y2="663.8" stroke="#111" stroke-width="1.2"/>
<line x1="54.5" y1="656.8" x2="57.5" y2="656.8" stroke="#111" stroke-width="1.1"/>
<line x1="54.5" y1="649.8" x2="57.5" y2="649.8" stroke="#111" stroke-width="1.1"/>
<line x1="54.5" y1="642.9" x2="57.5" y2="642.9" stroke="#111" stroke-width="1.1"/>
<line x1="54.5" y1="635.9" x2="57.5" y2="635.9" stroke="#111" stroke-width="1.1"/>
<text x="48.8" y="668.0" font-size="15" font-weight="bold" text-anchor="end" fill="#111" textLength="16.2" lengthAdjust="spacingAndGlyphs">0.1</text>
<line x1="53.3" y1="628.9" x2="57.5" y2="628.9" stroke="#111" stroke-width="1.2"/>
<line x1="54.5" y1="621.9" x2="57.5" y2="621.9" stroke="#111" stroke-width="1.1"/>
<line x1="54.5" y1="615.0" x2="57.5" y2="615.0" stroke="#111" stroke-width="1.1"/>
<line x1="54.5" y1="608.0" x2="57.5" y2="608.0" stroke="#111" stroke-width="1.1"/>
<line x1="54.5" y1="601.0" x2="57.5" y2="601.0" stroke="#111" stroke-width="1.1"/>
<text x="48.8" y="633.1" font-size="15" font-weight="bold" text-anchor="end" fill="#111" textLength="16.2" lengthAdjust="spacingAndGlyphs">0.2</text>
<line x1="53.3" y1="594.1" x2="57.5" y2="594.1" stroke="#111" stroke-width="1.2"/>
<line x1="54.5" y1="587.1" x2="57.5" y2="587.1" stroke="#111" stroke-width="1.1"/>
<line x1="54.5" y1="580.1" x2="57.5" y2="580.1" stroke="#111" stroke-width="1.1"/>
<line x1="54.5" y1="573.2" x2="57.5" y2="573.2" stroke="#111" stroke-width="1.1"/>
<line x1="54.5" y1="566.2" x2="57.5" y2="566.2" stroke="#111" stroke-width="1.1"/>
<text x="48.8" y="598.3" font-size="15" font-weight="bold" text-anchor="end" fill="#111" textLength="16.2" lengthAdjust="spacingAndGlyphs">0.3</text>
<line x1="53.3" y1="559.2" x2="57.5" y2="559.2" stroke="#111" stroke-width="1.2"/>
<line x1="54.5" y1="552.3" x2="57.5" y2="552.3" stroke="#111" stroke-width="1.1"/>
<line x1="54.5" y1="545.3" x2="57.5" y2="545.3" stroke="#111" stroke-width="1.1"/>
<line x1="54.5" y1="538.3" x2="57.5" y2="538.3" stroke="#111" stroke-width="1.1"/>
<line x1="54.5" y1="531.4" x2="57.5" y2="531.4" stroke="#111" stroke-width="1.1"/>
<text x="48.8" y="563.4" font-size="15" font-weight="bold" text-anchor="end" fill="#111" textLength="16.2" lengthAdjust="spacingAndGlyphs">0.4</text>
<line x1="53.3" y1="524.4" x2="57.5" y2="524.4" stroke="#111" stroke-width="1.2"/>
<line x1="54.5" y1="517.4" x2="57.5" y2="517.4" stroke="#111" stroke-width="1.1"/>
<line x1="54.5" y1="510.4" x2="57.5" y2="510.4" stroke="#111" stroke-width="1.1"/>
<line x1="54.5" y1="503.5" x2="57.5" y2="503.5" stroke="#111" stroke-width="1.1"/>
<line x1="54.5" y1="496.5" x2="57.5" y2="496.5" stroke="#111" stroke-width="1.1"/>
<text x="48.8" y="528.6" font-size="15" font-weight="bold" text-anchor="end" fill="#111" textLength="16.2" lengthAdjust="spacingAndGlyphs">0.5</text>
<line x1="53.3" y1="489.5" x2="57.5" y2="489.5" stroke="#111" stroke-width="1.2"/>
<line x1="54.5" y1="482.6" x2="57.5" y2="482.6" stroke="#111" stroke-width="1.1"/>
<line x1="54.5" y1="475.6" x2="57.5" y2="475.6" stroke="#111" stroke-width="1.1"/>
<line x1="54.5" y1="468.6" x2="57.5" y2="468.6" stroke="#111" stroke-width="1.1"/>
<line x1="54.5" y1="461.7" x2="57.5" y2="461.7" stroke="#111" stroke-width="1.1"/>
<text x="48.8" y="493.7" font-size="15" font-weight="bold" text-anchor="end" fill="#111" textLength="16.2" lengthAdjust="spacingAndGlyphs">0.6</text>
<line x1="53.3" y1="454.7" x2="57.5" y2="454.7" stroke="#111" stroke-width="1.2"/>
<text x="48.8" y="458.9" font-size="15" font-weight="bold" text-anchor="end" fill="#111" textLength="16.2" lengthAdjust="spacingAndGlyphs">0.7</text>
<line x1="56.9" y1="698.6" x2="513.9" y2="698.6" stroke="#111" stroke-width="1.3"/>
<line x1="57.5" y1="698.6" x2="57.5" y2="701.6" stroke="#111" stroke-width="1.1"/>
<line x1="65.8" y1="698.6" x2="65.8" y2="701.6" stroke="#111" stroke-width="1.1"/>
<line x1="74.1" y1="698.6" x2="74.1" y2="701.6" stroke="#111" stroke-width="1.1"/>
<line x1="82.4" y1="698.6" x2="82.4" y2="701.6" stroke="#111" stroke-width="1.1"/>
<line x1="90.7" y1="698.6" x2="90.7" y2="701.6" stroke="#111" stroke-width="1.1"/>
<line x1="98.9" y1="698.6" x2="98.9" y2="701.6" stroke="#111" stroke-width="1.1"/>
<line x1="107.2" y1="698.6" x2="107.2" y2="701.6" stroke="#111" stroke-width="1.1"/>
<line x1="115.5" y1="698.6" x2="115.5" y2="701.6" stroke="#111" stroke-width="1.1"/>
<line x1="123.8" y1="698.6" x2="123.8" y2="701.6" stroke="#111" stroke-width="1.1"/>
<line x1="132.1" y1="698.6" x2="132.1" y2="701.6" stroke="#111" stroke-width="1.1"/>
<line x1="140.4" y1="698.6" x2="140.4" y2="701.6" stroke="#111" stroke-width="1.1"/>
<line x1="148.7" y1="698.6" x2="148.7" y2="701.6" stroke="#111" stroke-width="1.1"/>
<line x1="157.0" y1="698.6" x2="157.0" y2="701.6" stroke="#111" stroke-width="1.1"/>
<line x1="165.2" y1="698.6" x2="165.2" y2="701.6" stroke="#111" stroke-width="1.1"/>
<line x1="173.5" y1="698.6" x2="173.5" y2="701.6" stroke="#111" stroke-width="1.1"/>
<line x1="181.8" y1="698.6" x2="181.8" y2="701.6" stroke="#111" stroke-width="1.1"/>
<line x1="190.1" y1="698.6" x2="190.1" y2="701.6" stroke="#111" stroke-width="1.1"/>
<line x1="198.4" y1="698.6" x2="198.4" y2="701.6" stroke="#111" stroke-width="1.1"/>
<line x1="206.7" y1="698.6" x2="206.7" y2="701.6" stroke="#111" stroke-width="1.1"/>
<line x1="215.0" y1="698.6" x2="215.0" y2="701.6" stroke="#111" stroke-width="1.1"/>
<line x1="223.3" y1="698.6" x2="223.3" y2="701.6" stroke="#111" stroke-width="1.1"/>
<line x1="231.5" y1="698.6" x2="231.5" y2="701.6" stroke="#111" stroke-width="1.1"/>
<line x1="239.8" y1="698.6" x2="239.8" y2="701.6" stroke="#111" stroke-width="1.1"/>
<line x1="248.1" y1="698.6" x2="248.1" y2="701.6" stroke="#111" stroke-width="1.1"/>
<line x1="256.4" y1="698.6" x2="256.4" y2="701.6" stroke="#111" stroke-width="1.1"/>
<line x1="264.7" y1="698.6" x2="264.7" y2="701.6" stroke="#111" stroke-width="1.1"/>
<line x1="273.0" y1="698.6" x2="273.0" y2="701.6" stroke="#111" stroke-width="1.1"/>
<line x1="281.3" y1="698.6" x2="281.3" y2="701.6" stroke="#111" stroke-width="1.1"/>
<line x1="289.6" y1="698.6" x2="289.6" y2="701.6" stroke="#111" stroke-width="1.1"/>
<line x1="297.9" y1="698.6" x2="297.9" y2="701.6" stroke="#111" stroke-width="1.1"/>
<line x1="306.1" y1="698.6" x2="306.1" y2="701.6" stroke="#111" stroke-width="1.1"/>
<line x1="314.4" y1="698.6" x2="314.4" y2="701.6" stroke="#111" stroke-width="1.1"/>
<line x1="322.7" y1="698.6" x2="322.7" y2="701.6" stroke="#111" stroke-width="1.1"/>
<line x1="331.0" y1="698.6" x2="331.0" y2="701.6" stroke="#111" stroke-width="1.1"/>
<line x1="339.3" y1="698.6" x2="339.3" y2="701.6" stroke="#111" stroke-width="1.1"/>
<line x1="347.6" y1="698.6" x2="347.6" y2="701.6" stroke="#111" stroke-width="1.1"/>
<line x1="355.9" y1="698.6" x2="355.9" y2="701.6" stroke="#111" stroke-width="1.1"/>
<line x1="364.2" y1="698.6" x2="364.2" y2="701.6" stroke="#111" stroke-width="1.1"/>
<line x1="372.4" y1="698.6" x2="372.4" y2="701.6" stroke="#111" stroke-width="1.1"/>
<line x1="380.7" y1="698.6" x2="380.7" y2="701.6" stroke="#111" stroke-width="1.1"/>
<line x1="389.0" y1="698.6" x2="389.0" y2="701.6" stroke="#111" stroke-width="1.1"/>
<line x1="397.3" y1="698.6" x2="397.3" y2="701.6" stroke="#111" stroke-width="1.1"/>
<line x1="405.6" y1="698.6" x2="405.6" y2="701.6" stroke="#111" stroke-width="1.1"/>
<line x1="413.9" y1="698.6" x2="413.9" y2="701.6" stroke="#111" stroke-width="1.1"/>
<line x1="422.2" y1="698.6" x2="422.2" y2="701.6" stroke="#111" stroke-width="1.1"/>
<line x1="430.5" y1="698.6" x2="430.5" y2="701.6" stroke="#111" stroke-width="1.1"/>
<line x1="438.7" y1="698.6" x2="438.7" y2="701.6" stroke="#111" stroke-width="1.1"/>
<line x1="447.0" y1="698.6" x2="447.0" y2="701.6" stroke="#111" stroke-width="1.1"/>
<line x1="455.3" y1="698.6" x2="455.3" y2="701.6" stroke="#111" stroke-width="1.1"/>
<line x1="463.6" y1="698.6" x2="463.6" y2="701.6" stroke="#111" stroke-width="1.1"/>
<line x1="471.9" y1="698.6" x2="471.9" y2="701.6" stroke="#111" stroke-width="1.1"/>
<line x1="480.2" y1="698.6" x2="480.2" y2="701.6" stroke="#111" stroke-width="1.1"/>
<line x1="488.5" y1="698.6" x2="488.5" y2="701.6" stroke="#111" stroke-width="1.1"/>
<line x1="496.8" y1="698.6" x2="496.8" y2="701.6" stroke="#111" stroke-width="1.1"/>
<line x1="505.1" y1="698.6" x2="505.1" y2="701.6" stroke="#111" stroke-width="1.1"/>
<line x1="513.3" y1="698.6" x2="513.3" y2="701.6" stroke="#111" stroke-width="1.1"/>
<line x1="513.3" y1="698.0" x2="513.3" y2="701.8" stroke="#111" stroke-width="1.3"/>
<text x="57.5" y="716.4" font-size="14" font-weight="bold" text-anchor="middle" fill="#111" textLength="7.4" lengthAdjust="spacingAndGlyphs">0</text>
<text x="98.9" y="716.4" font-size="14" font-weight="bold" text-anchor="middle" fill="#111" textLength="7.4" lengthAdjust="spacingAndGlyphs">7</text>
<text x="140.4" y="716.4" font-size="14" font-weight="bold" text-anchor="middle" fill="#111" textLength="14.2" lengthAdjust="spacingAndGlyphs">14</text>
<text x="181.8" y="716.4" font-size="14" font-weight="bold" text-anchor="middle" fill="#111" textLength="14.2" lengthAdjust="spacingAndGlyphs">21</text>
<text x="223.3" y="716.4" font-size="14" font-weight="bold" text-anchor="middle" fill="#111" textLength="14.2" lengthAdjust="spacingAndGlyphs">28</text>
<text x="264.7" y="716.4" font-size="14" font-weight="bold" text-anchor="middle" fill="#111" textLength="14.2" lengthAdjust="spacingAndGlyphs">35</text>
<text x="306.1" y="716.4" font-size="14" font-weight="bold" text-anchor="middle" fill="#111" textLength="14.2" lengthAdjust="spacingAndGlyphs">42</text>
<text x="347.6" y="716.4" font-size="14" font-weight="bold" text-anchor="middle" fill="#111" textLength="14.2" lengthAdjust="spacingAndGlyphs">49</text>
<text x="389.0" y="716.4" font-size="14" font-weight="bold" text-anchor="middle" fill="#111" textLength="14.2" lengthAdjust="spacingAndGlyphs">56</text>
<text x="430.5" y="716.4" font-size="14" font-weight="bold" text-anchor="middle" fill="#111" textLength="14.2" lengthAdjust="spacingAndGlyphs">63</text>
<text x="471.9" y="716.4" font-size="14" font-weight="bold" text-anchor="middle" fill="#111" textLength="14.2" lengthAdjust="spacingAndGlyphs">70</text>
<text x="513.3" y="716.4" font-size="14" font-weight="bold" text-anchor="middle" fill="#111" textLength="14.2" lengthAdjust="spacingAndGlyphs">77</text>
<text x="275.4" y="731.9" font-size="14" font-weight="bold" text-anchor="start" fill="#111" textLength="21.1" lengthAdjust="spacingAndGlyphs">Day</text>
<text x="63.5" y="755.8" font-size="14.5" font-weight="normal" text-anchor="start" fill="#111" stroke="#111" stroke-width="0.55" textLength="152.0" lengthAdjust="spacingAndGlyphs">Patients with evaluable data</text>
<text x="67.3" y="773.0" font-size="14.5" font-weight="bold" text-anchor="middle" fill="#23955a" textLength="13.4" lengthAdjust="spacingAndGlyphs">10</text>
<text x="107.0" y="773.0" font-size="14.5" font-weight="bold" text-anchor="middle" fill="#23955a" textLength="6.9" lengthAdjust="spacingAndGlyphs">7</text>
<text x="149.2" y="773.0" font-size="14.5" font-weight="bold" text-anchor="middle" fill="#23955a" textLength="6.9" lengthAdjust="spacingAndGlyphs">7</text>
<text x="189.6" y="773.0" font-size="14.5" font-weight="bold" text-anchor="middle" fill="#23955a" textLength="6.9" lengthAdjust="spacingAndGlyphs">7</text>
<text x="230.3" y="773.0" font-size="14.5" font-weight="bold" text-anchor="middle" fill="#23955a" textLength="6.9" lengthAdjust="spacingAndGlyphs">7</text>
<text x="313.8" y="773.0" font-size="14.5" font-weight="bold" text-anchor="middle" fill="#23955a" textLength="6.9" lengthAdjust="spacingAndGlyphs">5</text>
<text x="353.5" y="773.0" font-size="14.5" font-weight="bold" text-anchor="middle" fill="#23955a" textLength="6.9" lengthAdjust="spacingAndGlyphs">5</text>
<text x="393.8" y="773.0" font-size="14.5" font-weight="bold" text-anchor="middle" fill="#23955a" textLength="6.9" lengthAdjust="spacingAndGlyphs">4</text>
<text x="434.2" y="773.0" font-size="14.5" font-weight="bold" text-anchor="middle" fill="#23955a" textLength="6.9" lengthAdjust="spacingAndGlyphs">5</text>
<text x="475.4" y="773.0" font-size="14.5" font-weight="bold" text-anchor="middle" fill="#23955a" textLength="6.9" lengthAdjust="spacingAndGlyphs">4</text>
<text x="67.3" y="787.0" font-size="14.5" font-weight="bold" text-anchor="middle" fill="#1d5a96" textLength="13.4" lengthAdjust="spacingAndGlyphs">11</text>
<text x="107.0" y="787.0" font-size="14.5" font-weight="bold" text-anchor="middle" fill="#1d5a96" textLength="13.4" lengthAdjust="spacingAndGlyphs">11</text>
<text x="149.2" y="787.0" font-size="14.5" font-weight="bold" text-anchor="middle" fill="#1d5a96" textLength="6.9" lengthAdjust="spacingAndGlyphs">9</text>
<text x="189.6" y="787.0" font-size="14.5" font-weight="bold" text-anchor="middle" fill="#1d5a96" textLength="6.9" lengthAdjust="spacingAndGlyphs">8</text>
<text x="230.3" y="787.0" font-size="14.5" font-weight="bold" text-anchor="middle" fill="#1d5a96" textLength="6.9" lengthAdjust="spacingAndGlyphs">5</text>
<text x="313.8" y="787.0" font-size="14.5" font-weight="bold" text-anchor="middle" fill="#1d5a96" textLength="6.9" lengthAdjust="spacingAndGlyphs">9</text>
<text x="353.5" y="787.0" font-size="14.5" font-weight="bold" text-anchor="middle" fill="#1d5a96" textLength="6.9" lengthAdjust="spacingAndGlyphs">7</text>
<text x="393.8" y="787.0" font-size="14.5" font-weight="bold" text-anchor="middle" fill="#1d5a96" textLength="6.9" lengthAdjust="spacingAndGlyphs">8</text>
<text x="434.2" y="787.0" font-size="14.5" font-weight="bold" text-anchor="middle" fill="#1d5a96" textLength="6.9" lengthAdjust="spacingAndGlyphs">8</text>
<text x="475.4" y="787.0" font-size="14.5" font-weight="bold" text-anchor="middle" fill="#1d5a96" textLength="6.9" lengthAdjust="spacingAndGlyphs">8</text>
<text x="67.3" y="801.2" font-size="14.5" font-weight="bold" text-anchor="middle" fill="#a82a34" textLength="6.9" lengthAdjust="spacingAndGlyphs">8</text>
<text x="107.0" y="801.2" font-size="14.5" font-weight="bold" text-anchor="middle" fill="#a82a34" textLength="6.9" lengthAdjust="spacingAndGlyphs">7</text>
<text x="149.2" y="801.2" font-size="14.5" font-weight="bold" text-anchor="middle" fill="#a82a34" textLength="6.9" lengthAdjust="spacingAndGlyphs">8</text>
<text x="189.6" y="801.2" font-size="14.5" font-weight="bold" text-anchor="middle" fill="#a82a34" textLength="6.9" lengthAdjust="spacingAndGlyphs">6</text>
<text x="230.3" y="801.2" font-size="14.5" font-weight="bold" text-anchor="middle" fill="#a82a34" textLength="6.9" lengthAdjust="spacingAndGlyphs">5</text>
<text x="313.8" y="801.2" font-size="14.5" font-weight="bold" text-anchor="middle" fill="#a82a34" textLength="6.9" lengthAdjust="spacingAndGlyphs">3</text>
<text x="353.5" y="801.2" font-size="14.5" font-weight="bold" text-anchor="middle" fill="#a82a34" textLength="6.9" lengthAdjust="spacingAndGlyphs">3</text>
<text x="393.8" y="801.2" font-size="14.5" font-weight="bold" text-anchor="middle" fill="#a82a34" textLength="6.9" lengthAdjust="spacingAndGlyphs">3</text>
<text x="434.2" y="801.2" font-size="14.5" font-weight="bold" text-anchor="middle" fill="#a82a34" textLength="6.9" lengthAdjust="spacingAndGlyphs">3</text>
<text x="475.4" y="801.2" font-size="14.5" font-weight="bold" text-anchor="middle" fill="#a82a34" textLength="6.9" lengthAdjust="spacingAndGlyphs">2</text>
<line x1="60.4" y1="661.8" x2="60.4" y2="679.5" stroke="#983443" stroke-width="1.2"/>
<line x1="57.9" y1="661.8" x2="62.9" y2="661.8" stroke="#983443" stroke-width="1.4"/>
<line x1="57.9" y1="679.5" x2="62.9" y2="679.5" stroke="#983443" stroke-width="1.4"/>
<line x1="101.9" y1="671.5" x2="101.9" y2="683.1" stroke="#983443" stroke-width="1.2"/>
<line x1="99.4" y1="671.5" x2="104.4" y2="671.5" stroke="#983443" stroke-width="1.4"/>
<line x1="99.4" y1="683.1" x2="104.4" y2="683.1" stroke="#983443" stroke-width="1.4"/>
<line x1="143.1" y1="670.0" x2="143.1" y2="691.2" stroke="#983443" stroke-width="1.2"/>
<line x1="140.6" y1="670.0" x2="145.6" y2="670.0" stroke="#983443" stroke-width="1.4"/>
<line x1="140.6" y1="691.2" x2="145.6" y2="691.2" stroke="#983443" stroke-width="1.4"/>
<line x1="184.2" y1="630.0" x2="184.2" y2="686.9" stroke="#983443" stroke-width="1.2"/>
<line x1="181.7" y1="630.0" x2="186.7" y2="630.0" stroke="#983443" stroke-width="1.4"/>
<line x1="181.7" y1="686.9" x2="186.7" y2="686.9" stroke="#983443" stroke-width="1.4"/>
<line x1="226.1" y1="674.2" x2="226.1" y2="688.9" stroke="#983443" stroke-width="1.2"/>
<line x1="223.6" y1="674.2" x2="228.6" y2="674.2" stroke="#983443" stroke-width="1.4"/>
<line x1="223.6" y1="688.9" x2="228.6" y2="688.9" stroke="#983443" stroke-width="1.4"/>
<line x1="308.5" y1="628.0" x2="308.5" y2="647.7" stroke="#983443" stroke-width="1.2"/>
<line x1="306.0" y1="628.0" x2="311.0" y2="628.0" stroke="#983443" stroke-width="1.4"/>
<line x1="306.0" y1="647.7" x2="311.0" y2="647.7" stroke="#983443" stroke-width="1.4"/>
<line x1="350.0" y1="663.8" x2="350.0" y2="683.1" stroke="#983443" stroke-width="1.2"/>
<line x1="347.5" y1="663.8" x2="352.5" y2="663.8" stroke="#983443" stroke-width="1.4"/>
<line x1="347.5" y1="683.1" x2="352.5" y2="683.1" stroke="#983443" stroke-width="1.4"/>
<line x1="392.0" y1="667.7" x2="392.0" y2="686.6" stroke="#983443" stroke-width="1.2"/>
<line x1="389.5" y1="667.7" x2="394.5" y2="667.7" stroke="#983443" stroke-width="1.4"/>
<line x1="389.5" y1="686.6" x2="394.5" y2="686.6" stroke="#983443" stroke-width="1.4"/>
<line x1="433.5" y1="671.0" x2="433.5" y2="690.3" stroke="#983443" stroke-width="1.2"/>
<line x1="431.0" y1="671.0" x2="436.0" y2="671.0" stroke="#983443" stroke-width="1.4"/>
<line x1="431.0" y1="690.3" x2="436.0" y2="690.3" stroke="#983443" stroke-width="1.4"/>
<line x1="475.0" y1="650.0" x2="475.0" y2="655.5" stroke="#983443" stroke-width="1.2"/>
<line x1="472.5" y1="650.0" x2="477.5" y2="650.0" stroke="#983443" stroke-width="1.4"/>
<line x1="472.5" y1="655.5" x2="477.5" y2="655.5" stroke="#983443" stroke-width="1.4"/>
<polyline points="60.4,670.8 101.9,678.9 143.1,680.8 184.2,670.5 226.1,688.9" fill="none" stroke="#ad1d2d" stroke-width="2.4" stroke-linejoin="round" stroke-linecap="round"/>
<polyline points="308.5,639.7 350.0,669.2 392.0,676.2 433.5,685.4 475.0,652.9" fill="none" stroke="#ad1d2d" stroke-width="2.4" stroke-linejoin="round" stroke-linecap="round"/>
<polygon points="60.4,667.5 63.7,673.4 57.1,673.4" fill="#ad1d2d"/>
<polygon points="101.9,675.6 105.2,681.5 98.6,681.5" fill="#ad1d2d"/>
<polygon points="143.1,677.5 146.4,683.4 139.8,683.4" fill="#ad1d2d"/>
<polygon points="184.2,667.2 187.5,673.1 180.9,673.1" fill="#ad1d2d"/>
<polygon points="226.1,685.6 229.4,691.5 222.8,691.5" fill="#ad1d2d"/>
<polygon points="308.5,636.4 311.8,642.3 305.2,642.3" fill="#ad1d2d"/>
<polygon points="350.0,665.9 353.3,671.8 346.7,671.8" fill="#ad1d2d"/>
<polygon points="392.0,672.9 395.3,678.8 388.7,678.8" fill="#ad1d2d"/>
<polygon points="433.5,682.1 436.8,688.0 430.2,688.0" fill="#ad1d2d"/>
<polygon points="475.0,649.6 478.3,655.5 471.7,655.5" fill="#ad1d2d"/>
<line x1="63.9" y1="616.2" x2="63.9" y2="684.2" stroke="#305e8c" stroke-width="1.2"/>
<line x1="61.4" y1="616.2" x2="66.4" y2="616.2" stroke="#305e8c" stroke-width="1.4"/>
<line x1="61.4" y1="684.2" x2="66.4" y2="684.2" stroke="#305e8c" stroke-width="1.4"/>
<line x1="105.0" y1="588.5" x2="105.0" y2="656.5" stroke="#305e8c" stroke-width="1.2"/>
<line x1="102.5" y1="588.5" x2="107.5" y2="588.5" stroke="#305e8c" stroke-width="1.4"/>
<line x1="102.5" y1="656.5" x2="107.5" y2="656.5" stroke="#305e8c" stroke-width="1.4"/>
<line x1="146.2" y1="567.7" x2="146.2" y2="642.8" stroke="#305e8c" stroke-width="1.2"/>
<line x1="143.7" y1="567.7" x2="148.7" y2="567.7" stroke="#305e8c" stroke-width="1.4"/>
<line x1="143.7" y1="642.8" x2="148.7" y2="642.8" stroke="#305e8c" stroke-width="1.4"/>
<line x1="187.7" y1="562.3" x2="187.7" y2="633.1" stroke="#305e8c" stroke-width="1.2"/>
<line x1="185.2" y1="562.3" x2="190.2" y2="562.3" stroke="#305e8c" stroke-width="1.4"/>
<line x1="185.2" y1="633.1" x2="190.2" y2="633.1" stroke="#305e8c" stroke-width="1.4"/>
<line x1="312.3" y1="628.9" x2="312.3" y2="680.0" stroke="#305e8c" stroke-width="1.2"/>
<line x1="309.8" y1="628.9" x2="314.8" y2="628.9" stroke="#305e8c" stroke-width="1.4"/>
<line x1="309.8" y1="680.0" x2="314.8" y2="680.0" stroke="#305e8c" stroke-width="1.4"/>
<line x1="353.8" y1="615.4" x2="353.8" y2="667.7" stroke="#305e8c" stroke-width="1.2"/>
<line x1="351.3" y1="615.4" x2="356.3" y2="615.4" stroke="#305e8c" stroke-width="1.4"/>
<line x1="351.3" y1="667.7" x2="356.3" y2="667.7" stroke="#305e8c" stroke-width="1.4"/>
<line x1="395.1" y1="602.3" x2="395.1" y2="666.2" stroke="#305e8c" stroke-width="1.2"/>
<line x1="392.6" y1="602.3" x2="397.6" y2="602.3" stroke="#305e8c" stroke-width="1.4"/>
<line x1="392.6" y1="666.2" x2="397.6" y2="666.2" stroke="#305e8c" stroke-width="1.4"/>
<line x1="436.2" y1="571.7" x2="436.2" y2="663.8" stroke="#305e8c" stroke-width="1.2"/>
<line x1="433.7" y1="571.7" x2="438.7" y2="571.7" stroke="#305e8c" stroke-width="1.4"/>
<line x1="433.7" y1="663.8" x2="438.7" y2="663.8" stroke="#305e8c" stroke-width="1.4"/>
<line x1="477.8" y1="586.5" x2="477.8" y2="671.0" stroke="#305e8c" stroke-width="1.2"/>
<line x1="475.3" y1="586.5" x2="480.3" y2="586.5" stroke="#305e8c" stroke-width="1.4"/>
<line x1="475.3" y1="671.0" x2="480.3" y2="671.0" stroke="#305e8c" stroke-width="1.4"/>
<polyline points="63.5,658.0 105.0,633.1 146.2,639.2 187.7,602.3 228.8,639.7" fill="none" stroke="#1853a2" stroke-width="2.4" stroke-linejoin="round" stroke-linecap="round"/>
<polyline points="312.3,641.8 353.8,635.1 395.1,640.3 436.2,607.3 477.8,610.3" fill="none" stroke="#1853a2" stroke-width="2.4" stroke-linejoin="round" stroke-linecap="round"/>
<polygon points="63.5,655.0 66.5,658.0 63.5,661.0 60.5,658.0" fill="#1853a2"/>
<polygon points="105.0,630.1 108.0,633.1 105.0,636.1 102.0,633.1" fill="#1853a2"/>
<polygon points="146.2,636.2 149.2,639.2 146.2,642.2 143.2,639.2" fill="#1853a2"/>
<polygon points="187.7,599.3 190.7,602.3 187.7,605.3 184.7,602.3" fill="#1853a2"/>
<polygon points="228.8,636.7 231.8,639.7 228.8,642.7 225.8,639.7" fill="#1853a2"/>
<polygon points="312.3,638.8 315.3,641.8 312.3,644.8 309.3,641.8" fill="#1853a2"/>
<polygon points="353.8,632.1 356.8,635.1 353.8,638.1 350.8,635.1" fill="#1853a2"/>
<polygon points="395.1,637.3 398.1,640.3 395.1,643.3 392.1,640.3" fill="#1853a2"/>
<polygon points="436.2,604.3 439.2,607.3 436.2,610.3 433.2,607.3" fill="#1853a2"/>
<polygon points="477.8,607.3 480.8,610.3 477.8,613.3 474.8,610.3" fill="#1853a2"/>
<line x1="65.8" y1="606.2" x2="65.8" y2="678.5" stroke="#3d9870" stroke-width="1.2"/>
<line x1="63.3" y1="606.2" x2="68.3" y2="606.2" stroke="#3d9870" stroke-width="1.4"/>
<line x1="63.3" y1="678.5" x2="68.3" y2="678.5" stroke="#3d9870" stroke-width="1.4"/>
<line x1="107.8" y1="532.0" x2="107.8" y2="666.9" stroke="#3d9870" stroke-width="1.2"/>
<line x1="105.3" y1="532.0" x2="110.3" y2="532.0" stroke="#3d9870" stroke-width="1.4"/>
<line x1="105.3" y1="666.9" x2="110.3" y2="666.9" stroke="#3d9870" stroke-width="1.4"/>
<line x1="148.9" y1="601.5" x2="148.9" y2="656.6" stroke="#3d9870" stroke-width="1.2"/>
<line x1="146.4" y1="601.5" x2="151.4" y2="601.5" stroke="#3d9870" stroke-width="1.4"/>
<line x1="146.4" y1="656.6" x2="151.4" y2="656.6" stroke="#3d9870" stroke-width="1.4"/>
<line x1="190.8" y1="576.6" x2="190.8" y2="651.5" stroke="#3d9870" stroke-width="1.2"/>
<line x1="188.3" y1="576.6" x2="193.3" y2="576.6" stroke="#3d9870" stroke-width="1.4"/>
<line x1="188.3" y1="651.5" x2="193.3" y2="651.5" stroke="#3d9870" stroke-width="1.4"/>
<line x1="231.9" y1="550.8" x2="231.9" y2="647.7" stroke="#3d9870" stroke-width="1.2"/>
<line x1="229.4" y1="550.8" x2="234.4" y2="550.8" stroke="#3d9870" stroke-width="1.4"/>
<line x1="229.4" y1="647.7" x2="234.4" y2="647.7" stroke="#3d9870" stroke-width="1.4"/>
<line x1="315.1" y1="617.7" x2="315.1" y2="652.3" stroke="#3d9870" stroke-width="1.2"/>
<line x1="312.6" y1="617.7" x2="317.6" y2="617.7" stroke="#3d9870" stroke-width="1.4"/>
<line x1="312.6" y1="652.3" x2="317.6" y2="652.3" stroke="#3d9870" stroke-width="1.4"/>
<line x1="356.5" y1="507.4" x2="356.5" y2="683.8" stroke="#3d9870" stroke-width="1.2"/>
<line x1="354.0" y1="507.4" x2="359.0" y2="507.4" stroke="#3d9870" stroke-width="1.4"/>
<line x1="354.0" y1="683.8" x2="359.0" y2="683.8" stroke="#3d9870" stroke-width="1.4"/>
<line x1="397.7" y1="497.7" x2="397.7" y2="632.6" stroke="#3d9870" stroke-width="1.2"/>
<line x1="395.2" y1="497.7" x2="400.2" y2="497.7" stroke="#3d9870" stroke-width="1.4"/>
<line x1="395.2" y1="632.6" x2="400.2" y2="632.6" stroke="#3d9870" stroke-width="1.4"/>
<line x1="439.0" y1="512.9" x2="439.0" y2="656.0" stroke="#3d9870" stroke-width="1.2"/>
<line x1="436.5" y1="512.9" x2="441.5" y2="512.9" stroke="#3d9870" stroke-width="1.4"/>
<line x1="436.5" y1="656.0" x2="441.5" y2="656.0" stroke="#3d9870" stroke-width="1.4"/>
<line x1="481.4" y1="508.9" x2="481.4" y2="645.7" stroke="#3d9870" stroke-width="1.2"/>
<line x1="478.9" y1="508.9" x2="483.9" y2="508.9" stroke="#3d9870" stroke-width="1.4"/>
<line x1="478.9" y1="645.7" x2="483.9" y2="645.7" stroke="#3d9870" stroke-width="1.4"/>
<polyline points="66.1,660.8 108.1,591.5 148.9,619.2 190.8,627.4 231.9,619.7" fill="none" stroke="#1a9850" stroke-width="2.4" stroke-linejoin="round" stroke-linecap="round"/>
<polyline points="315.1,623.1 356.2,608.8 398.0,563.8 439.0,634.3 481.4,578.9" fill="none" stroke="#1a9850" stroke-width="2.4" stroke-linejoin="round" stroke-linecap="round"/>
<rect x="63.2" y="657.9" width="5.8" height="5.8" fill="#1a9850"/>
<rect x="105.2" y="588.6" width="5.8" height="5.8" fill="#1a9850"/>
<rect x="146.0" y="616.3" width="5.8" height="5.8" fill="#1a9850"/>
<rect x="187.9" y="624.5" width="5.8" height="5.8" fill="#1a9850"/>
<rect x="229.0" y="616.8" width="5.8" height="5.8" fill="#1a9850"/>
<rect x="312.2" y="620.2" width="5.8" height="5.8" fill="#1a9850"/>
<rect x="353.3" y="605.9" width="5.8" height="5.8" fill="#1a9850"/>
<rect x="395.1" y="560.9" width="5.8" height="5.8" fill="#1a9850"/>
<rect x="436.1" y="631.4" width="5.8" height="5.8" fill="#1a9850"/>
<rect x="478.5" y="576.0" width="5.8" height="5.8" fill="#1a9850"/>
<text x="1.1" y="847.3" font-size="25" font-weight="bold" text-anchor="start" fill="#111" stroke="#111" stroke-width="1.1" textLength="15.8" lengthAdjust="spacingAndGlyphs">C</text>
<line x1="74.6" y1="836.0" x2="99.0" y2="836.0" stroke="#1a9850" stroke-width="1.9"/>
<rect x="83.4" y="833.2" width="5.5" height="5.5" fill="#1a9850"/>
<text x="99.6" y="840.2" font-size="12" font-weight="normal" text-anchor="start" fill="#111" stroke="#111" stroke-width="0.6" textLength="75.5" lengthAdjust="spacingAndGlyphs">MRD Response</text>
<text x="99.6" y="852.6" font-size="12" font-weight="normal" text-anchor="start" fill="#111" stroke="#111" stroke-width="0.6" textLength="77.8" lengthAdjust="spacingAndGlyphs">OS &#8805; 30 Months</text>
<line x1="201.5" y1="836.0" x2="225.2" y2="836.0" stroke="#1853a2" stroke-width="1.9"/>
<polygon points="212.5,833.6 214.9,836.0 212.5,838.4 210.1,836.0" fill="#1853a2"/>
<text x="225.8" y="840.2" font-size="12" font-weight="normal" text-anchor="start" fill="#111" stroke="#111" stroke-width="0.6" textLength="75.1" lengthAdjust="spacingAndGlyphs">MRD Response</text>
<text x="225.8" y="852.6" font-size="12" font-weight="normal" text-anchor="start" fill="#111" stroke="#111" stroke-width="0.6" textLength="76.5" lengthAdjust="spacingAndGlyphs">OS &lt; 30 Months</text>
<line x1="327.9" y1="836.0" x2="352.5" y2="836.0" stroke="#ad1d2d" stroke-width="1.9"/>
<polygon points="339.7,833.5 342.2,838.0 337.2,838.0" fill="#ad1d2d"/>
<text x="353.2" y="840.2" font-size="12" font-weight="normal" text-anchor="start" fill="#111" stroke="#111" stroke-width="0.6" textLength="90.8" lengthAdjust="spacingAndGlyphs">MRD Nonresponse</text>
<text x="353.2" y="852.6" font-size="12" font-weight="normal" text-anchor="start" fill="#111" stroke="#111" stroke-width="0.6" textLength="76.4" lengthAdjust="spacingAndGlyphs">OS &lt; 30 Months</text>
<text transform="translate(11.6,1044.7) rotate(-90)" font-size="15.5" font-weight="bold" fill="#111" textLength="121" lengthAdjust="spacingAndGlyphs">CD19<tspan font-size="9" dy="-6">+</tspan><tspan dy="6"> B cells [10</tspan><tspan font-size="9" dy="-6">3</tspan><tspan dy="6">/&#956;L]</tspan></text>
<line x1="57.4" y1="870.2" x2="57.4" y2="1117.3" stroke="#111" stroke-width="1.3"/>
<line x1="54.4" y1="880.0" x2="57.4" y2="880.0" stroke="#111" stroke-width="1.1"/>
<line x1="54.4" y1="873.5" x2="57.4" y2="873.5" stroke="#111" stroke-width="1.1"/>
<line x1="53.2" y1="1113.8" x2="57.4" y2="1113.8" stroke="#111" stroke-width="1.2"/>
<line x1="54.4" y1="1107.3" x2="57.4" y2="1107.3" stroke="#111" stroke-width="1.1"/>
<line x1="54.4" y1="1100.8" x2="57.4" y2="1100.8" stroke="#111" stroke-width="1.1"/>
<line x1="54.4" y1="1094.3" x2="57.4" y2="1094.3" stroke="#111" stroke-width="1.1"/>
<line x1="54.4" y1="1087.8" x2="57.4" y2="1087.8" stroke="#111" stroke-width="1.1"/>
<text x="49.2" y="1118.0" font-size="15" font-weight="bold" text-anchor="end" fill="#111" textLength="23.8" lengthAdjust="spacingAndGlyphs">0.00</text>
<line x1="53.2" y1="1081.3" x2="57.4" y2="1081.3" stroke="#111" stroke-width="1.2"/>
<line x1="54.4" y1="1074.8" x2="57.4" y2="1074.8" stroke="#111" stroke-width="1.1"/>
<line x1="54.4" y1="1068.3" x2="57.4" y2="1068.3" stroke="#111" stroke-width="1.1"/>
<line x1="54.4" y1="1061.8" x2="57.4" y2="1061.8" stroke="#111" stroke-width="1.1"/>
<line x1="54.4" y1="1055.4" x2="57.4" y2="1055.4" stroke="#111" stroke-width="1.1"/>
<text x="49.2" y="1085.5" font-size="15" font-weight="bold" text-anchor="end" fill="#111" textLength="23.8" lengthAdjust="spacingAndGlyphs">0.02</text>
<line x1="53.2" y1="1048.9" x2="57.4" y2="1048.9" stroke="#111" stroke-width="1.2"/>
<line x1="54.4" y1="1042.4" x2="57.4" y2="1042.4" stroke="#111" stroke-width="1.1"/>
<line x1="54.4" y1="1035.9" x2="57.4" y2="1035.9" stroke="#111" stroke-width="1.1"/>
<line x1="54.4" y1="1029.4" x2="57.4" y2="1029.4" stroke="#111" stroke-width="1.1"/>
<line x1="54.4" y1="1022.9" x2="57.4" y2="1022.9" stroke="#111" stroke-width="1.1"/>
<text x="49.2" y="1053.1" font-size="15" font-weight="bold" text-anchor="end" fill="#111" textLength="23.8" lengthAdjust="spacingAndGlyphs">0.04</text>
<line x1="53.2" y1="1016.4" x2="57.4" y2="1016.4" stroke="#111" stroke-width="1.2"/>
<line x1="54.4" y1="1009.9" x2="57.4" y2="1009.9" stroke="#111" stroke-width="1.1"/>
<line x1="54.4" y1="1003.4" x2="57.4" y2="1003.4" stroke="#111" stroke-width="1.1"/>
<line x1="54.4" y1="996.9" x2="57.4" y2="996.9" stroke="#111" stroke-width="1.1"/>
<line x1="54.4" y1="990.4" x2="57.4" y2="990.4" stroke="#111" stroke-width="1.1"/>
<text x="49.2" y="1020.6" font-size="15" font-weight="bold" text-anchor="end" fill="#111" textLength="23.8" lengthAdjust="spacingAndGlyphs">0.06</text>
<line x1="53.2" y1="983.9" x2="57.4" y2="983.9" stroke="#111" stroke-width="1.2"/>
<line x1="54.4" y1="977.4" x2="57.4" y2="977.4" stroke="#111" stroke-width="1.1"/>
<line x1="54.4" y1="970.9" x2="57.4" y2="970.9" stroke="#111" stroke-width="1.1"/>
<line x1="54.4" y1="964.4" x2="57.4" y2="964.4" stroke="#111" stroke-width="1.1"/>
<line x1="54.4" y1="957.9" x2="57.4" y2="957.9" stroke="#111" stroke-width="1.1"/>
<text x="49.2" y="988.1" font-size="15" font-weight="bold" text-anchor="end" fill="#111" textLength="23.8" lengthAdjust="spacingAndGlyphs">0.08</text>
<line x1="53.2" y1="951.4" x2="57.4" y2="951.4" stroke="#111" stroke-width="1.2"/>
<line x1="54.4" y1="944.9" x2="57.4" y2="944.9" stroke="#111" stroke-width="1.1"/>
<line x1="54.4" y1="938.5" x2="57.4" y2="938.5" stroke="#111" stroke-width="1.1"/>
<line x1="54.4" y1="932.0" x2="57.4" y2="932.0" stroke="#111" stroke-width="1.1"/>
<line x1="54.4" y1="925.5" x2="57.4" y2="925.5" stroke="#111" stroke-width="1.1"/>
<text x="49.2" y="955.6" font-size="15" font-weight="bold" text-anchor="end" fill="#111" textLength="23.8" lengthAdjust="spacingAndGlyphs">0.10</text>
<line x1="53.2" y1="919.0" x2="57.4" y2="919.0" stroke="#111" stroke-width="1.2"/>
<line x1="54.4" y1="912.5" x2="57.4" y2="912.5" stroke="#111" stroke-width="1.1"/>
<line x1="54.4" y1="906.0" x2="57.4" y2="906.0" stroke="#111" stroke-width="1.1"/>
<line x1="54.4" y1="899.5" x2="57.4" y2="899.5" stroke="#111" stroke-width="1.1"/>
<line x1="54.4" y1="893.0" x2="57.4" y2="893.0" stroke="#111" stroke-width="1.1"/>
<text x="49.2" y="923.2" font-size="15" font-weight="bold" text-anchor="end" fill="#111" textLength="23.8" lengthAdjust="spacingAndGlyphs">0.12</text>
<line x1="53.2" y1="886.5" x2="57.4" y2="886.5" stroke="#111" stroke-width="1.2"/>
<text x="49.2" y="890.7" font-size="15" font-weight="bold" text-anchor="end" fill="#111" textLength="23.8" lengthAdjust="spacingAndGlyphs">0.14</text>
<line x1="56.8" y1="1113.8" x2="508.3" y2="1113.8" stroke="#111" stroke-width="1.3"/>
<line x1="57.4" y1="1113.8" x2="57.4" y2="1116.8" stroke="#111" stroke-width="1.1"/>
<line x1="65.6" y1="1113.8" x2="65.6" y2="1116.8" stroke="#111" stroke-width="1.1"/>
<line x1="73.8" y1="1113.8" x2="73.8" y2="1116.8" stroke="#111" stroke-width="1.1"/>
<line x1="82.0" y1="1113.8" x2="82.0" y2="1116.8" stroke="#111" stroke-width="1.1"/>
<line x1="90.2" y1="1113.8" x2="90.2" y2="1116.8" stroke="#111" stroke-width="1.1"/>
<line x1="98.3" y1="1113.8" x2="98.3" y2="1116.8" stroke="#111" stroke-width="1.1"/>
<line x1="106.5" y1="1113.8" x2="106.5" y2="1116.8" stroke="#111" stroke-width="1.1"/>
<line x1="114.7" y1="1113.8" x2="114.7" y2="1116.8" stroke="#111" stroke-width="1.1"/>
<line x1="122.9" y1="1113.8" x2="122.9" y2="1116.8" stroke="#111" stroke-width="1.1"/>
<line x1="131.1" y1="1113.8" x2="131.1" y2="1116.8" stroke="#111" stroke-width="1.1"/>
<line x1="139.3" y1="1113.8" x2="139.3" y2="1116.8" stroke="#111" stroke-width="1.1"/>
<line x1="147.5" y1="1113.8" x2="147.5" y2="1116.8" stroke="#111" stroke-width="1.1"/>
<line x1="155.7" y1="1113.8" x2="155.7" y2="1116.8" stroke="#111" stroke-width="1.1"/>
<line x1="163.9" y1="1113.8" x2="163.9" y2="1116.8" stroke="#111" stroke-width="1.1"/>
<line x1="172.1" y1="1113.8" x2="172.1" y2="1116.8" stroke="#111" stroke-width="1.1"/>
<line x1="180.2" y1="1113.8" x2="180.2" y2="1116.8" stroke="#111" stroke-width="1.1"/>
<line x1="188.4" y1="1113.8" x2="188.4" y2="1116.8" stroke="#111" stroke-width="1.1"/>
<line x1="196.6" y1="1113.8" x2="196.6" y2="1116.8" stroke="#111" stroke-width="1.1"/>
<line x1="204.8" y1="1113.8" x2="204.8" y2="1116.8" stroke="#111" stroke-width="1.1"/>
<line x1="213.0" y1="1113.8" x2="213.0" y2="1116.8" stroke="#111" stroke-width="1.1"/>
<line x1="221.2" y1="1113.8" x2="221.2" y2="1116.8" stroke="#111" stroke-width="1.1"/>
<line x1="229.4" y1="1113.8" x2="229.4" y2="1116.8" stroke="#111" stroke-width="1.1"/>
<line x1="237.6" y1="1113.8" x2="237.6" y2="1116.8" stroke="#111" stroke-width="1.1"/>
<line x1="245.8" y1="1113.8" x2="245.8" y2="1116.8" stroke="#111" stroke-width="1.1"/>
<line x1="254.0" y1="1113.8" x2="254.0" y2="1116.8" stroke="#111" stroke-width="1.1"/>
<line x1="262.1" y1="1113.8" x2="262.1" y2="1116.8" stroke="#111" stroke-width="1.1"/>
<line x1="270.3" y1="1113.8" x2="270.3" y2="1116.8" stroke="#111" stroke-width="1.1"/>
<line x1="278.5" y1="1113.8" x2="278.5" y2="1116.8" stroke="#111" stroke-width="1.1"/>
<line x1="286.7" y1="1113.8" x2="286.7" y2="1116.8" stroke="#111" stroke-width="1.1"/>
<line x1="294.9" y1="1113.8" x2="294.9" y2="1116.8" stroke="#111" stroke-width="1.1"/>
<line x1="303.1" y1="1113.8" x2="303.1" y2="1116.8" stroke="#111" stroke-width="1.1"/>
<line x1="311.3" y1="1113.8" x2="311.3" y2="1116.8" stroke="#111" stroke-width="1.1"/>
<line x1="319.5" y1="1113.8" x2="319.5" y2="1116.8" stroke="#111" stroke-width="1.1"/>
<line x1="327.7" y1="1113.8" x2="327.7" y2="1116.8" stroke="#111" stroke-width="1.1"/>
<line x1="335.9" y1="1113.8" x2="335.9" y2="1116.8" stroke="#111" stroke-width="1.1"/>
<line x1="344.0" y1="1113.8" x2="344.0" y2="1116.8" stroke="#111" stroke-width="1.1"/>
<line x1="352.2" y1="1113.8" x2="352.2" y2="1116.8" stroke="#111" stroke-width="1.1"/>
<line x1="360.4" y1="1113.8" x2="360.4" y2="1116.8" stroke="#111" stroke-width="1.1"/>
<line x1="368.6" y1="1113.8" x2="368.6" y2="1116.8" stroke="#111" stroke-width="1.1"/>
<line x1="376.8" y1="1113.8" x2="376.8" y2="1116.8" stroke="#111" stroke-width="1.1"/>
<line x1="385.0" y1="1113.8" x2="385.0" y2="1116.8" stroke="#111" stroke-width="1.1"/>
<line x1="393.2" y1="1113.8" x2="393.2" y2="1116.8" stroke="#111" stroke-width="1.1"/>
<line x1="401.4" y1="1113.8" x2="401.4" y2="1116.8" stroke="#111" stroke-width="1.1"/>
<line x1="409.6" y1="1113.8" x2="409.6" y2="1116.8" stroke="#111" stroke-width="1.1"/>
<line x1="417.8" y1="1113.8" x2="417.8" y2="1116.8" stroke="#111" stroke-width="1.1"/>
<line x1="425.9" y1="1113.8" x2="425.9" y2="1116.8" stroke="#111" stroke-width="1.1"/>
<line x1="434.1" y1="1113.8" x2="434.1" y2="1116.8" stroke="#111" stroke-width="1.1"/>
<line x1="442.3" y1="1113.8" x2="442.3" y2="1116.8" stroke="#111" stroke-width="1.1"/>
<line x1="450.5" y1="1113.8" x2="450.5" y2="1116.8" stroke="#111" stroke-width="1.1"/>
<line x1="458.7" y1="1113.8" x2="458.7" y2="1116.8" stroke="#111" stroke-width="1.1"/>
<line x1="466.9" y1="1113.8" x2="466.9" y2="1116.8" stroke="#111" stroke-width="1.1"/>
<line x1="475.1" y1="1113.8" x2="475.1" y2="1116.8" stroke="#111" stroke-width="1.1"/>
<line x1="483.3" y1="1113.8" x2="483.3" y2="1116.8" stroke="#111" stroke-width="1.1"/>
<line x1="491.5" y1="1113.8" x2="491.5" y2="1116.8" stroke="#111" stroke-width="1.1"/>
<line x1="499.7" y1="1113.8" x2="499.7" y2="1116.8" stroke="#111" stroke-width="1.1"/>
<line x1="507.8" y1="1113.8" x2="507.8" y2="1116.8" stroke="#111" stroke-width="1.1"/>
<line x1="507.7" y1="1113.2" x2="507.7" y2="1117.0" stroke="#111" stroke-width="1.3"/>
<text x="57.4" y="1132.0" font-size="14" font-weight="bold" text-anchor="middle" fill="#111" textLength="7.4" lengthAdjust="spacingAndGlyphs">0</text>
<text x="98.3" y="1132.0" font-size="14" font-weight="bold" text-anchor="middle" fill="#111" textLength="7.4" lengthAdjust="spacingAndGlyphs">7</text>
<text x="139.3" y="1132.0" font-size="14" font-weight="bold" text-anchor="middle" fill="#111" textLength="14.2" lengthAdjust="spacingAndGlyphs">14</text>
<text x="180.2" y="1132.0" font-size="14" font-weight="bold" text-anchor="middle" fill="#111" textLength="14.2" lengthAdjust="spacingAndGlyphs">21</text>
<text x="221.2" y="1132.0" font-size="14" font-weight="bold" text-anchor="middle" fill="#111" textLength="14.2" lengthAdjust="spacingAndGlyphs">28</text>
<text x="262.1" y="1132.0" font-size="14" font-weight="bold" text-anchor="middle" fill="#111" textLength="14.2" lengthAdjust="spacingAndGlyphs">35</text>
<text x="303.1" y="1132.0" font-size="14" font-weight="bold" text-anchor="middle" fill="#111" textLength="14.2" lengthAdjust="spacingAndGlyphs">42</text>
<text x="344.0" y="1132.0" font-size="14" font-weight="bold" text-anchor="middle" fill="#111" textLength="14.2" lengthAdjust="spacingAndGlyphs">49</text>
<text x="385.0" y="1132.0" font-size="14" font-weight="bold" text-anchor="middle" fill="#111" textLength="14.2" lengthAdjust="spacingAndGlyphs">56</text>
<text x="425.9" y="1132.0" font-size="14" font-weight="bold" text-anchor="middle" fill="#111" textLength="14.2" lengthAdjust="spacingAndGlyphs">63</text>
<text x="466.9" y="1132.0" font-size="14" font-weight="bold" text-anchor="middle" fill="#111" textLength="14.2" lengthAdjust="spacingAndGlyphs">70</text>
<text x="507.8" y="1132.0" font-size="14" font-weight="bold" text-anchor="middle" fill="#111" textLength="14.2" lengthAdjust="spacingAndGlyphs">77</text>
<text x="272.8" y="1147.0" font-size="14" font-weight="bold" text-anchor="start" fill="#111" textLength="21.0" lengthAdjust="spacingAndGlyphs">Day</text>
<text x="55.8" y="1171.0" font-size="14.5" font-weight="normal" text-anchor="start" fill="#111" stroke="#111" stroke-width="0.55" textLength="151.9" lengthAdjust="spacingAndGlyphs">Patients with evaluable data</text>
<text x="62.5" y="1187.5" font-size="14.5" font-weight="bold" text-anchor="middle" fill="#23955a" textLength="6.9" lengthAdjust="spacingAndGlyphs">7</text>
<text x="80.2" y="1187.5" font-size="14.5" font-weight="bold" text-anchor="middle" fill="#23955a" textLength="6.9" lengthAdjust="spacingAndGlyphs">9</text>
<text x="107.7" y="1187.5" font-size="14.5" font-weight="bold" text-anchor="middle" fill="#23955a" textLength="6.9" lengthAdjust="spacingAndGlyphs">6</text>
<text x="148.1" y="1187.5" font-size="14.5" font-weight="bold" text-anchor="middle" fill="#23955a" textLength="6.9" lengthAdjust="spacingAndGlyphs">3</text>
<text x="189.2" y="1187.5" font-size="14.5" font-weight="bold" text-anchor="middle" fill="#23955a" textLength="6.9" lengthAdjust="spacingAndGlyphs">6</text>
<text x="228.8" y="1187.5" font-size="14.5" font-weight="bold" text-anchor="middle" fill="#23955a" textLength="6.9" lengthAdjust="spacingAndGlyphs">3</text>
<text x="305.4" y="1187.5" font-size="14.5" font-weight="bold" text-anchor="middle" fill="#23955a" textLength="6.9" lengthAdjust="spacingAndGlyphs">5</text>
<text x="323.0" y="1187.5" font-size="14.5" font-weight="bold" text-anchor="middle" fill="#23955a" textLength="6.9" lengthAdjust="spacingAndGlyphs">6</text>
<text x="351.5" y="1187.5" font-size="14.5" font-weight="bold" text-anchor="middle" fill="#23955a" textLength="6.9" lengthAdjust="spacingAndGlyphs">4</text>
<text x="390.8" y="1187.5" font-size="14.5" font-weight="bold" text-anchor="middle" fill="#23955a" textLength="6.9" lengthAdjust="spacingAndGlyphs">5</text>
<text x="430.4" y="1187.5" font-size="14.5" font-weight="bold" text-anchor="middle" fill="#23955a" textLength="6.9" lengthAdjust="spacingAndGlyphs">3</text>
<text x="471.5" y="1187.5" font-size="14.5" font-weight="bold" text-anchor="middle" fill="#23955a" textLength="6.9" lengthAdjust="spacingAndGlyphs">2</text>
<text x="62.5" y="1202.0" font-size="14.5" font-weight="bold" text-anchor="middle" fill="#1d5a96" textLength="13.4" lengthAdjust="spacingAndGlyphs">12</text>
<text x="80.2" y="1202.0" font-size="14.5" font-weight="bold" text-anchor="middle" fill="#1d5a96" textLength="13.4" lengthAdjust="spacingAndGlyphs">10</text>
<text x="107.7" y="1202.0" font-size="14.5" font-weight="bold" text-anchor="middle" fill="#1d5a96" textLength="13.4" lengthAdjust="spacingAndGlyphs">10</text>
<text x="148.1" y="1202.0" font-size="14.5" font-weight="bold" text-anchor="middle" fill="#1d5a96" textLength="6.9" lengthAdjust="spacingAndGlyphs">7</text>
<text x="189.2" y="1202.0" font-size="14.5" font-weight="bold" text-anchor="middle" fill="#1d5a96" textLength="6.9" lengthAdjust="spacingAndGlyphs">8</text>
<text x="228.8" y="1202.0" font-size="14.5" font-weight="bold" text-anchor="middle" fill="#1d5a96" textLength="6.9" lengthAdjust="spacingAndGlyphs">4</text>
<text x="305.4" y="1202.0" font-size="14.5" font-weight="bold" text-anchor="middle" fill="#1d5a96" textLength="13.4" lengthAdjust="spacingAndGlyphs">11</text>
<text x="323.0" y="1202.0" font-size="14.5" font-weight="bold" text-anchor="middle" fill="#1d5a96" textLength="13.4" lengthAdjust="spacingAndGlyphs">11</text>
<text x="351.5" y="1202.0" font-size="14.5" font-weight="bold" text-anchor="middle" fill="#1d5a96" textLength="6.9" lengthAdjust="spacingAndGlyphs">8</text>
<text x="390.8" y="1202.0" font-size="14.5" font-weight="bold" text-anchor="middle" fill="#1d5a96" textLength="6.9" lengthAdjust="spacingAndGlyphs">8</text>
<text x="430.4" y="1202.0" font-size="14.5" font-weight="bold" text-anchor="middle" fill="#1d5a96" textLength="13.4" lengthAdjust="spacingAndGlyphs">10</text>
<text x="471.5" y="1202.0" font-size="14.5" font-weight="bold" text-anchor="middle" fill="#1d5a96" textLength="6.9" lengthAdjust="spacingAndGlyphs">9</text>
<text x="62.5" y="1216.3" font-size="14.5" font-weight="bold" text-anchor="middle" fill="#a82a34" textLength="13.4" lengthAdjust="spacingAndGlyphs">10</text>
<text x="80.2" y="1216.3" font-size="14.5" font-weight="bold" text-anchor="middle" fill="#a82a34" textLength="6.9" lengthAdjust="spacingAndGlyphs">7</text>
<text x="107.7" y="1216.3" font-size="14.5" font-weight="bold" text-anchor="middle" fill="#a82a34" textLength="6.9" lengthAdjust="spacingAndGlyphs">7</text>
<text x="148.1" y="1216.3" font-size="14.5" font-weight="bold" text-anchor="middle" fill="#a82a34" textLength="6.9" lengthAdjust="spacingAndGlyphs">8</text>
<text x="189.2" y="1216.3" font-size="14.5" font-weight="bold" text-anchor="middle" fill="#a82a34" textLength="6.9" lengthAdjust="spacingAndGlyphs">7</text>
<text x="228.8" y="1216.3" font-size="14.5" font-weight="bold" text-anchor="middle" fill="#a82a34" textLength="6.9" lengthAdjust="spacingAndGlyphs">3</text>
<text x="305.4" y="1216.3" font-size="14.5" font-weight="bold" text-anchor="middle" fill="#a82a34" textLength="6.9" lengthAdjust="spacingAndGlyphs">2</text>
<text x="323.0" y="1216.3" font-size="14.5" font-weight="bold" text-anchor="middle" fill="#a82a34" textLength="6.9" lengthAdjust="spacingAndGlyphs">2</text>
<text x="351.5" y="1216.3" font-size="14.5" font-weight="bold" text-anchor="middle" fill="#a82a34" textLength="6.9" lengthAdjust="spacingAndGlyphs">1</text>
<text x="390.8" y="1216.3" font-size="14.5" font-weight="bold" text-anchor="middle" fill="#a82a34" textLength="6.9" lengthAdjust="spacingAndGlyphs">1</text>
<text x="430.4" y="1216.3" font-size="14.5" font-weight="bold" text-anchor="middle" fill="#a82a34" textLength="6.9" lengthAdjust="spacingAndGlyphs">3</text>
<text x="471.5" y="1216.3" font-size="14.5" font-weight="bold" text-anchor="middle" fill="#a82a34" textLength="6.9" lengthAdjust="spacingAndGlyphs">3</text>
<line x1="60.3" y1="870.2" x2="60.3" y2="1113.5" stroke="#983443" stroke-width="1.2"/>
<line x1="63.4" y1="886.5" x2="63.4" y2="1096.5" stroke="#305e8c" stroke-width="1.2"/>
<line x1="60.9" y1="886.5" x2="65.9" y2="886.5" stroke="#305e8c" stroke-width="1.4"/>
<line x1="60.9" y1="1096.5" x2="65.9" y2="1096.5" stroke="#305e8c" stroke-width="1.4"/>
<line x1="66.1" y1="926.2" x2="66.1" y2="966.0" stroke="#3d9870" stroke-width="1.2"/>
<line x1="63.6" y1="926.2" x2="68.6" y2="926.2" stroke="#3d9870" stroke-width="1.4"/>
<line x1="74.0" y1="1028.6" x2="74.0" y2="1092.3" stroke="#3d9870" stroke-width="1.2"/>
<line x1="71.5" y1="1028.6" x2="76.5" y2="1028.6" stroke="#3d9870" stroke-width="1.4"/>
<line x1="71.5" y1="1092.3" x2="76.5" y2="1092.3" stroke="#3d9870" stroke-width="1.4"/>
<line x1="101.5" y1="1026.0" x2="101.5" y2="1106.0" stroke="#983443" stroke-width="1.2"/>
<line x1="99.0" y1="1026.0" x2="104.0" y2="1026.0" stroke="#983443" stroke-width="1.4"/>
<line x1="99.0" y1="1106.0" x2="104.0" y2="1106.0" stroke="#983443" stroke-width="1.4"/>
<line x1="142.5" y1="1070.9" x2="142.5" y2="1110.0" stroke="#983443" stroke-width="1.2"/>
<line x1="140.0" y1="1070.9" x2="145.0" y2="1070.9" stroke="#983443" stroke-width="1.4"/>
<line x1="140.0" y1="1110.0" x2="145.0" y2="1110.0" stroke="#983443" stroke-width="1.4"/>
<line x1="317.7" y1="1103.8" x2="317.7" y2="1123.8" stroke="#983443" stroke-width="1.2"/>
<line x1="315.2" y1="1103.8" x2="320.2" y2="1103.8" stroke="#983443" stroke-width="1.4"/>
<line x1="315.2" y1="1123.8" x2="320.2" y2="1123.8" stroke="#983443" stroke-width="1.4"/>
<line x1="393.6" y1="1092.2" x2="393.6" y2="1113.0" stroke="#3d9870" stroke-width="1.2"/>
<line x1="391.1" y1="1092.2" x2="396.1" y2="1092.2" stroke="#3d9870" stroke-width="1.4"/>
<line x1="391.1" y1="1113.0" x2="396.1" y2="1113.0" stroke="#3d9870" stroke-width="1.4"/>
<polyline points="74.4,1113.5 230.0,1113.5" fill="none" stroke="#1c62a0" stroke-width="2.4" stroke-linejoin="round" stroke-linecap="round"/>
<polyline points="309.2,1113.5 476.0,1113.5" fill="none" stroke="#1c62a0" stroke-width="2.4" stroke-linejoin="round" stroke-linecap="round"/>
<polyline points="63.7,1040.0 74.4,1113.5" fill="none" stroke="#1853a2" stroke-width="2.4" stroke-linejoin="round" stroke-linecap="round"/>
<polygon points="63.7,1037.0 66.7,1040.0 63.7,1043.0 60.7,1040.0" fill="#1853a2"/>
<polyline points="66.3,965.9 78.6,1111.3 106.7,1113.3" fill="none" stroke="#1a9850" stroke-width="2.4" stroke-linejoin="round" stroke-linecap="round"/>
<rect x="63.4" y="963.0" width="5.8" height="5.8" fill="#1a9850"/>
<rect x="75.7" y="1108.4" width="5.8" height="5.8" fill="#1f927e"/>
<rect x="103.8" y="1110.1" width="5.8" height="5.8" fill="#1f927e"/>
<rect x="144.8" y="1110.1" width="5.8" height="5.8" fill="#1f927e"/>
<rect x="186.0" y="1110.1" width="5.8" height="5.8" fill="#1f927e"/>
<rect x="226.4" y="1110.1" width="5.8" height="5.8" fill="#1f927e"/>
<rect x="308.6" y="1110.1" width="5.8" height="5.8" fill="#1f927e"/>
<rect x="320.1" y="1108.4" width="5.8" height="5.8" fill="#1f927e"/>
<rect x="349.4" y="1107.9" width="5.8" height="5.8" fill="#1f927e"/>
<rect x="390.7" y="1110.1" width="5.8" height="5.8" fill="#1f927e"/>
<rect x="430.5" y="1110.1" width="5.8" height="5.8" fill="#1f927e"/>
<rect x="472.1" y="1110.1" width="5.8" height="5.8" fill="#1f927e"/>
<polygon points="309.2,1110.3 312.2,1113.3 309.2,1116.3 306.2,1113.3" fill="#1853a2"/>
<polyline points="60.6,993.5 71.0,1052.2 101.5,1105.8 142.3,1110.0 182.7,1113.5 224.7,1113.5" fill="none" stroke="#ad1d2d" stroke-width="2.4" stroke-linejoin="round" stroke-linecap="round"/>
<polyline points="305.1,1092.3 317.7,1113.5 468.7,1113.5" fill="none" stroke="#ad1d2d" stroke-width="2.4" stroke-linejoin="round" stroke-linecap="round"/>
<polygon points="60.6,990.2 63.9,996.1 57.3,996.1" fill="#ad1d2d"/>
<polygon points="71.0,1048.9 74.3,1054.8 67.7,1054.8" fill="#ad1d2d"/>
<polygon points="101.5,1102.5 104.8,1108.4 98.2,1108.4" fill="#ad1d2d"/>
<polygon points="142.3,1106.7 145.6,1112.6 139.0,1112.6" fill="#ad1d2d"/>
<polygon points="182.7,1110.2 186.0,1116.1 179.4,1116.1" fill="#ad1d2d"/>
<polygon points="224.7,1110.2 228.0,1116.1 221.4,1116.1" fill="#ad1d2d"/>
<polygon points="305.1,1089.0 308.4,1094.9 301.8,1094.9" fill="#ad1d2d"/>
<polygon points="317.7,1110.2 321.0,1116.1 314.4,1116.1" fill="#ad1d2d"/>
<polygon points="346.2,1110.2 349.5,1116.1 342.9,1116.1" fill="#ad1d2d"/>
<polygon points="387.8,1110.2 391.1,1116.1 384.5,1116.1" fill="#ad1d2d"/>
<polygon points="428.2,1110.2 431.5,1116.1 424.9,1116.1" fill="#ad1d2d"/>
<polygon points="468.7,1110.2 472.0,1116.1 465.4,1116.1" fill="#ad1d2d"/>
</svg></body></html>
